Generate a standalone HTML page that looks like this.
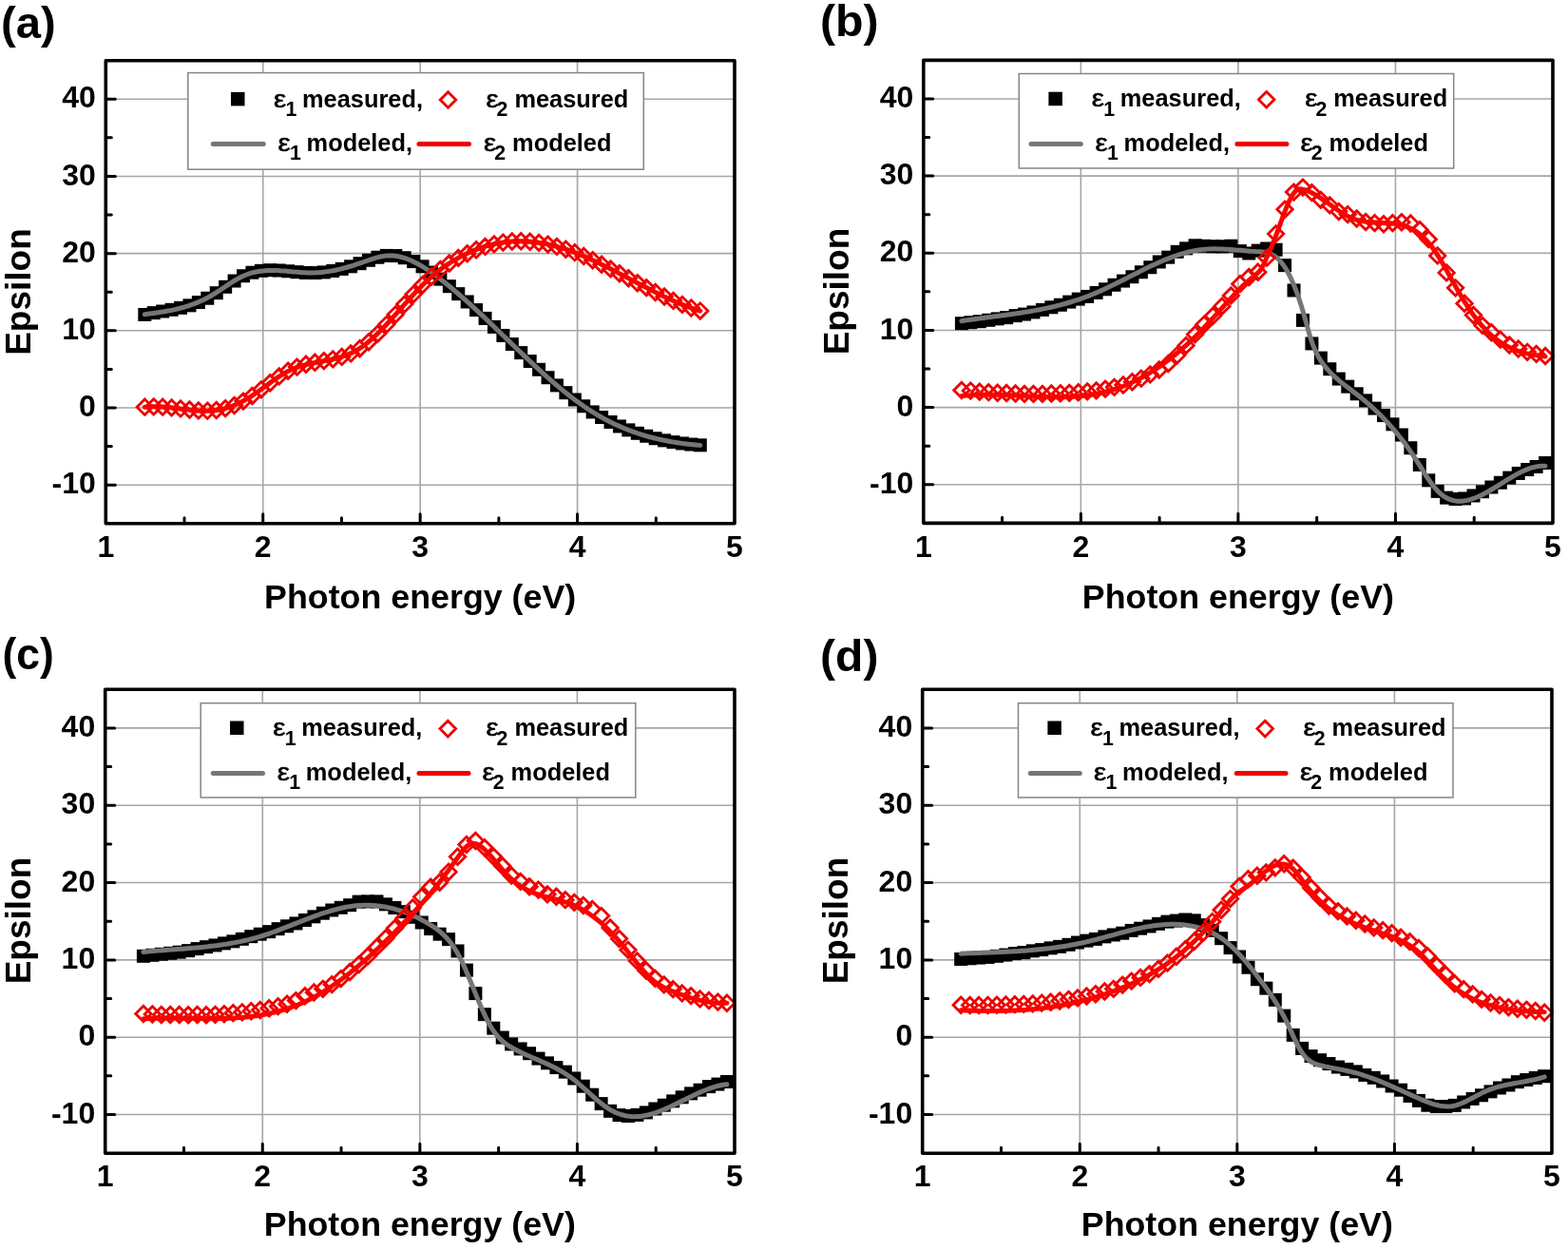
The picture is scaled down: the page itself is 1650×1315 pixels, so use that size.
<!DOCTYPE html>
<html><head><meta charset="utf-8"><title>Dielectric function: measured vs modeled</title>
<style>html,body{margin:0;padding:0;background:#fff;overflow:hidden}svg{display:block}</style>
</head><body>
<svg width="1650" height="1315" viewBox="0 0 1650 1315">
<rect width="1650" height="1315" fill="#fff"/>
<path d="M276.73 63.69V550.77M442.15 63.69V550.77M607.58 63.69V550.77M111.3 510.18H773M111.3 429H773M111.3 347.82H773M111.3 266.64H773M111.3 185.46H773M111.3 104.28H773" stroke="#a6a6a6" stroke-width="1.6" fill="none"/>
<rect x="197.8" y="76.6" width="479.5" height="101.6" fill="#fff" stroke="#858585" stroke-width="1.5"/>
<g fill="#000"><rect x="145.3" y="323.96" width="14" height="14"/><rect x="154.73" y="322.14" width="14" height="14"/><rect x="164.15" y="320.51" width="14" height="14"/><rect x="173.58" y="318.83" width="14" height="14"/><rect x="183.01" y="316.86" width="14" height="14"/><rect x="192.44" y="314.35" width="14" height="14"/><rect x="201.86" y="311.06" width="14" height="14"/><rect x="211.29" y="306.74" width="14" height="14"/><rect x="220.72" y="301.2" width="14" height="14"/><rect x="230.15" y="294.82" width="14" height="14"/><rect x="239.57" y="288.53" width="14" height="14"/><rect x="249" y="283.25" width="14" height="14"/><rect x="258.43" y="279.73" width="14" height="14"/><rect x="267.86" y="277.84" width="14" height="14"/><rect x="277.28" y="277.22" width="14" height="14"/><rect x="286.71" y="277.48" width="14" height="14"/><rect x="296.14" y="278.27" width="14" height="14"/><rect x="305.57" y="279.2" width="14" height="14"/><rect x="314.99" y="279.93" width="14" height="14"/><rect x="324.42" y="280.06" width="14" height="14"/><rect x="333.85" y="279.4" width="14" height="14"/><rect x="343.28" y="277.99" width="14" height="14"/><rect x="352.7" y="275.93" width="14" height="14"/><rect x="362.13" y="273.3" width="14" height="14"/><rect x="371.56" y="270.19" width="14" height="14"/><rect x="380.99" y="266.78" width="14" height="14"/><rect x="390.41" y="263.73" width="14" height="14"/><rect x="399.84" y="261.91" width="14" height="14"/><rect x="409.27" y="262.07" width="14" height="14"/><rect x="418.7" y="264.23" width="14" height="14"/><rect x="428.12" y="268.09" width="14" height="14"/><rect x="437.55" y="273.32" width="14" height="14"/><rect x="446.98" y="279.61" width="14" height="14"/><rect x="456.4" y="286.65" width="14" height="14"/><rect x="465.83" y="294.19" width="14" height="14"/><rect x="475.26" y="302.15" width="14" height="14"/><rect x="484.69" y="310.48" width="14" height="14"/><rect x="494.11" y="319.09" width="14" height="14"/><rect x="503.54" y="327.92" width="14" height="14"/><rect x="512.97" y="336.91" width="14" height="14"/><rect x="522.4" y="345.98" width="14" height="14"/><rect x="531.82" y="355.07" width="14" height="14"/><rect x="541.25" y="364.11" width="14" height="14"/><rect x="550.68" y="373.03" width="14" height="14"/><rect x="560.11" y="381.77" width="14" height="14"/><rect x="569.53" y="390.25" width="14" height="14"/><rect x="578.96" y="398.41" width="14" height="14"/><rect x="588.39" y="406.17" width="14" height="14"/><rect x="597.82" y="413.48" width="14" height="14"/><rect x="607.24" y="420.26" width="14" height="14"/><rect x="616.67" y="426.45" width="14" height="14"/><rect x="626.1" y="432.03" width="14" height="14"/><rect x="635.53" y="437.02" width="14" height="14"/><rect x="644.95" y="441.46" width="14" height="14"/><rect x="654.38" y="445.37" width="14" height="14"/><rect x="663.81" y="448.79" width="14" height="14"/><rect x="673.24" y="451.74" width="14" height="14"/><rect x="682.66" y="454.25" width="14" height="14"/><rect x="692.09" y="456.36" width="14" height="14"/><rect x="701.52" y="458.09" width="14" height="14"/><rect x="710.95" y="459.47" width="14" height="14"/><rect x="720.37" y="460.54" width="14" height="14"/><rect x="729.8" y="461.33" width="14" height="14"/></g>
<path d="M152.3 330.71 L154.75 330.39 L157.19 330.07 L159.64 329.74 L162.08 329.4 L164.53 329.06 L166.97 328.7 L169.42 328.32 L171.86 327.93 L174.31 327.51 L176.76 327.07 L179.2 326.6 L181.65 326.1 L184.09 325.57 L186.54 325.01 L188.98 324.4 L191.43 323.76 L193.88 323.07 L196.32 322.34 L198.77 321.56 L201.21 320.73 L203.66 319.84 L206.1 318.9 L208.55 317.89 L210.99 316.83 L213.44 315.7 L215.89 314.5 L218.33 313.23 L220.78 311.89 L223.22 310.48 L225.67 308.99 L228.11 307.44 L230.56 305.85 L233.01 304.24 L235.45 302.6 L237.9 300.97 L240.34 299.36 L242.79 297.77 L245.23 296.23 L247.68 294.75 L250.12 293.35 L252.57 292.03 L255.02 290.82 L257.46 289.72 L259.91 288.75 L262.35 287.9 L264.8 287.16 L267.24 286.52 L269.69 285.99 L272.13 285.54 L274.58 285.19 L277.03 284.91 L279.47 284.71 L281.92 284.58 L284.36 284.51 L286.81 284.5 L289.25 284.54 L291.7 284.62 L294.15 284.74 L296.59 284.89 L299.04 285.07 L301.48 285.26 L303.93 285.47 L306.37 285.69 L308.82 285.91 L311.26 286.12 L313.71 286.32 L316.16 286.51 L318.6 286.67 L321.05 286.8 L323.49 286.89 L325.94 286.94 L328.38 286.95 L330.83 286.9 L333.27 286.79 L335.72 286.64 L338.17 286.43 L340.61 286.17 L343.06 285.86 L345.5 285.51 L347.95 285.12 L350.39 284.68 L352.84 284.19 L355.29 283.67 L357.73 283.11 L360.18 282.52 L362.62 281.88 L365.07 281.22 L367.51 280.52 L369.96 279.79 L372.4 279.03 L374.85 278.24 L377.3 277.43 L379.74 276.59 L382.19 275.74 L384.63 274.87 L387.08 274.01 L389.52 273.17 L391.97 272.37 L394.42 271.61 L396.86 270.92 L399.31 270.3 L401.75 269.78 L404.2 269.37 L406.64 269.07 L409.09 268.91 L411.53 268.9 L413.98 269.02 L416.43 269.29 L418.87 269.68 L421.32 270.21 L423.76 270.85 L426.21 271.61 L428.65 272.47 L431.1 273.45 L433.54 274.52 L435.99 275.69 L438.44 276.94 L440.88 278.28 L443.33 279.7 L445.77 281.19 L448.22 282.75 L450.66 284.38 L453.11 286.06 L455.56 287.79 L458 289.57 L460.45 291.39 L462.89 293.24 L465.34 295.14 L467.78 297.06 L470.23 299.02 L472.67 301 L475.12 303.02 L477.57 305.07 L480.01 307.14 L482.46 309.24 L484.9 311.36 L487.35 313.51 L489.79 315.68 L492.24 317.87 L494.68 320.08 L497.13 322.31 L499.58 324.55 L502.02 326.82 L504.47 329.09 L506.91 331.38 L509.36 333.69 L511.8 336 L514.25 338.33 L516.7 340.67 L519.14 343.01 L521.59 345.36 L524.03 347.71 L526.48 350.07 L528.92 352.43 L531.37 354.79 L533.81 357.16 L536.26 359.52 L538.71 361.88 L541.15 364.24 L543.6 366.59 L546.04 368.94 L548.49 371.28 L550.93 373.62 L553.38 375.94 L555.83 378.26 L558.27 380.56 L560.72 382.85 L563.16 385.12 L565.61 387.38 L568.05 389.63 L570.5 391.85 L572.94 394.06 L575.39 396.25 L577.84 398.41 L580.28 400.56 L582.73 402.68 L585.17 404.77 L587.62 406.84 L590.06 408.88 L592.51 410.89 L594.95 412.88 L597.4 414.83 L599.85 416.75 L602.29 418.64 L604.74 420.49 L607.18 422.3 L609.63 424.08 L612.07 425.82 L614.52 427.52 L616.97 429.18 L619.41 430.8 L621.86 432.38 L624.3 433.91 L626.75 435.4 L629.19 436.85 L631.64 438.26 L634.08 439.63 L636.53 440.97 L638.98 442.26 L641.42 443.51 L643.87 444.73 L646.31 445.9 L648.76 447.04 L651.2 448.15 L653.65 449.22 L656.09 450.25 L658.54 451.25 L660.99 452.22 L663.43 453.15 L665.88 454.05 L668.32 454.92 L670.77 455.76 L673.21 456.56 L675.66 457.33 L678.11 458.08 L680.55 458.79 L683 459.48 L685.44 460.14 L687.89 460.77 L690.33 461.37 L692.78 461.94 L695.22 462.49 L697.67 463.02 L700.12 463.52 L702.56 463.99 L705.01 464.44 L707.45 464.87 L709.9 465.27 L712.34 465.66 L714.79 466.02 L717.24 466.36 L719.68 466.68 L722.13 466.98 L724.57 467.26 L727.02 467.52 L729.46 467.76 L731.91 467.98 L734.35 468.19 L736.8 468.38" stroke="#767676" stroke-width="5" fill="none" stroke-linecap="round" stroke-linejoin="round"/>
<g fill="none" stroke="#ee0000" stroke-width="2.8"><path d="M152.3 419.99l8.2 8.2l-8.2 8.2l-8.2 -8.2z"/><path d="M161.73 419.66l8.2 8.2l-8.2 8.2l-8.2 -8.2z"/><path d="M171.15 419.95l8.2 8.2l-8.2 8.2l-8.2 -8.2z"/><path d="M180.58 420.7l8.2 8.2l-8.2 8.2l-8.2 -8.2z"/><path d="M190.01 421.73l8.2 8.2l-8.2 8.2l-8.2 -8.2z"/><path d="M199.44 422.84l8.2 8.2l-8.2 8.2l-8.2 -8.2z"/><path d="M208.86 423.71l8.2 8.2l-8.2 8.2l-8.2 -8.2z"/><path d="M218.29 423.99l8.2 8.2l-8.2 8.2l-8.2 -8.2z"/><path d="M227.72 423.34l8.2 8.2l-8.2 8.2l-8.2 -8.2z"/><path d="M237.15 421.45l8.2 8.2l-8.2 8.2l-8.2 -8.2z"/><path d="M246.57 418.3l8.2 8.2l-8.2 8.2l-8.2 -8.2z"/><path d="M256 413.91l8.2 8.2l-8.2 8.2l-8.2 -8.2z"/><path d="M265.43 408.29l8.2 8.2l-8.2 8.2l-8.2 -8.2z"/><path d="M274.86 401.61l8.2 8.2l-8.2 8.2l-8.2 -8.2z"/><path d="M284.28 394.51l8.2 8.2l-8.2 8.2l-8.2 -8.2z"/><path d="M293.71 387.72l8.2 8.2l-8.2 8.2l-8.2 -8.2z"/><path d="M303.14 382.01l8.2 8.2l-8.2 8.2l-8.2 -8.2z"/><path d="M312.57 377.89l8.2 8.2l-8.2 8.2l-8.2 -8.2z"/><path d="M321.99 375.08l8.2 8.2l-8.2 8.2l-8.2 -8.2z"/><path d="M331.42 373.1l8.2 8.2l-8.2 8.2l-8.2 -8.2z"/><path d="M340.85 371.45l8.2 8.2l-8.2 8.2l-8.2 -8.2z"/><path d="M350.28 369.66l8.2 8.2l-8.2 8.2l-8.2 -8.2z"/><path d="M359.7 367.24l8.2 8.2l-8.2 8.2l-8.2 -8.2z"/><path d="M369.13 363.72l8.2 8.2l-8.2 8.2l-8.2 -8.2z"/><path d="M378.56 358.6l8.2 8.2l-8.2 8.2l-8.2 -8.2z"/><path d="M387.99 351.57l8.2 8.2l-8.2 8.2l-8.2 -8.2z"/><path d="M397.41 342.93l8.2 8.2l-8.2 8.2l-8.2 -8.2z"/><path d="M406.84 333.13l8.2 8.2l-8.2 8.2l-8.2 -8.2z"/><path d="M416.27 322.64l8.2 8.2l-8.2 8.2l-8.2 -8.2z"/><path d="M425.7 311.9l8.2 8.2l-8.2 8.2l-8.2 -8.2z"/><path d="M435.12 301.37l8.2 8.2l-8.2 8.2l-8.2 -8.2z"/><path d="M444.55 291.51l8.2 8.2l-8.2 8.2l-8.2 -8.2z"/><path d="M453.98 282.75l8.2 8.2l-8.2 8.2l-8.2 -8.2z"/><path d="M463.4 275.21l8.2 8.2l-8.2 8.2l-8.2 -8.2z"/><path d="M472.83 268.75l8.2 8.2l-8.2 8.2l-8.2 -8.2z"/><path d="M482.26 263.24l8.2 8.2l-8.2 8.2l-8.2 -8.2z"/><path d="M491.69 258.53l8.2 8.2l-8.2 8.2l-8.2 -8.2z"/><path d="M501.11 254.53l8.2 8.2l-8.2 8.2l-8.2 -8.2z"/><path d="M510.54 251.23l8.2 8.2l-8.2 8.2l-8.2 -8.2z"/><path d="M519.97 248.67l8.2 8.2l-8.2 8.2l-8.2 -8.2z"/><path d="M529.4 246.87l8.2 8.2l-8.2 8.2l-8.2 -8.2z"/><path d="M538.82 245.85l8.2 8.2l-8.2 8.2l-8.2 -8.2z"/><path d="M548.25 245.58l8.2 8.2l-8.2 8.2l-8.2 -8.2z"/><path d="M557.68 246.02l8.2 8.2l-8.2 8.2l-8.2 -8.2z"/><path d="M567.11 247.14l8.2 8.2l-8.2 8.2l-8.2 -8.2z"/><path d="M576.53 248.89l8.2 8.2l-8.2 8.2l-8.2 -8.2z"/><path d="M585.96 251.22l8.2 8.2l-8.2 8.2l-8.2 -8.2z"/><path d="M595.39 254.1l8.2 8.2l-8.2 8.2l-8.2 -8.2z"/><path d="M604.82 257.49l8.2 8.2l-8.2 8.2l-8.2 -8.2z"/><path d="M614.24 261.32l8.2 8.2l-8.2 8.2l-8.2 -8.2z"/><path d="M623.67 265.51l8.2 8.2l-8.2 8.2l-8.2 -8.2z"/><path d="M633.1 270l8.2 8.2l-8.2 8.2l-8.2 -8.2z"/><path d="M642.53 274.72l8.2 8.2l-8.2 8.2l-8.2 -8.2z"/><path d="M651.95 279.6l8.2 8.2l-8.2 8.2l-8.2 -8.2z"/><path d="M661.38 284.56l8.2 8.2l-8.2 8.2l-8.2 -8.2z"/><path d="M670.81 289.53l8.2 8.2l-8.2 8.2l-8.2 -8.2z"/><path d="M680.24 294.45l8.2 8.2l-8.2 8.2l-8.2 -8.2z"/><path d="M689.66 299.25l8.2 8.2l-8.2 8.2l-8.2 -8.2z"/><path d="M699.09 303.85l8.2 8.2l-8.2 8.2l-8.2 -8.2z"/><path d="M708.52 308.18l8.2 8.2l-8.2 8.2l-8.2 -8.2z"/><path d="M717.95 312.18l8.2 8.2l-8.2 8.2l-8.2 -8.2z"/><path d="M727.37 315.76l8.2 8.2l-8.2 8.2l-8.2 -8.2z"/><path d="M736.8 318.87l8.2 8.2l-8.2 8.2l-8.2 -8.2z"/></g>
<path d="M152.3 428.23 L154.75 428.01 L157.19 427.87 L159.64 427.78 L162.08 427.75 L164.53 427.77 L166.97 427.84 L169.42 427.95 L171.86 428.1 L174.31 428.29 L176.76 428.51 L179.2 428.75 L181.65 429.02 L184.09 429.3 L186.54 429.6 L188.98 429.91 L191.43 430.22 L193.88 430.54 L196.32 430.84 L198.77 431.14 L201.21 431.42 L203.66 431.67 L206.1 431.89 L208.55 432.08 L210.99 432.22 L213.44 432.32 L215.89 432.36 L218.33 432.34 L220.78 432.25 L223.22 432.09 L225.67 431.85 L228.11 431.53 L230.56 431.12 L233.01 430.61 L235.45 430.02 L237.9 429.35 L240.34 428.58 L242.79 427.74 L245.23 426.81 L247.68 425.8 L250.12 424.71 L252.57 423.54 L255.02 422.29 L257.46 420.97 L259.91 419.57 L262.35 418.1 L264.8 416.55 L267.24 414.94 L269.69 413.26 L272.13 411.54 L274.58 409.78 L277.03 407.99 L279.47 406.2 L281.92 404.4 L284.36 402.61 L286.81 400.84 L289.25 399.11 L291.7 397.43 L294.15 395.81 L296.59 394.25 L299.04 392.78 L301.48 391.4 L303.93 390.13 L306.37 388.97 L308.82 387.91 L311.26 386.95 L313.71 386.07 L316.16 385.27 L318.6 384.54 L321.05 383.87 L323.49 383.26 L325.94 382.69 L328.38 382.16 L330.83 381.66 L333.27 381.19 L335.72 380.72 L338.17 380.27 L340.61 379.81 L343.06 379.34 L345.5 378.85 L347.95 378.34 L350.39 377.79 L352.84 377.21 L355.29 376.57 L357.73 375.87 L360.18 375.11 L362.62 374.27 L365.07 373.35 L367.51 372.35 L369.96 371.24 L372.4 370.03 L374.85 368.7 L377.3 367.26 L379.74 365.68 L382.19 363.97 L384.63 362.14 L387.08 360.2 L389.52 358.15 L391.97 356 L394.42 353.75 L396.86 351.43 L399.31 349.02 L401.75 346.55 L404.2 344.01 L406.64 341.42 L409.09 338.78 L411.53 336.11 L413.98 333.4 L416.43 330.67 L418.87 327.92 L421.32 325.16 L423.76 322.4 L426.21 319.65 L428.65 316.91 L431.1 314.19 L433.54 311.5 L435.99 308.85 L438.44 306.24 L440.88 303.69 L443.33 301.19 L445.77 298.76 L448.22 296.4 L450.66 294.13 L453.11 291.93 L455.56 289.82 L458 287.78 L460.45 285.81 L462.89 283.92 L465.34 282.1 L467.78 280.35 L470.23 278.67 L472.67 277.05 L475.12 275.5 L477.57 274.01 L480.01 272.59 L482.46 271.22 L484.9 269.91 L487.35 268.65 L489.79 267.45 L492.24 266.3 L494.68 265.2 L497.13 264.15 L499.58 263.15 L502.02 262.2 L504.47 261.31 L506.91 260.46 L509.36 259.67 L511.8 258.92 L514.25 258.23 L516.7 257.59 L519.14 257 L521.59 256.46 L524.03 255.97 L526.48 255.53 L528.92 255.15 L531.37 254.81 L533.81 254.53 L536.26 254.3 L538.71 254.11 L541.15 253.98 L543.6 253.89 L546.04 253.85 L548.49 253.86 L550.93 253.92 L553.38 254.02 L555.83 254.16 L558.27 254.35 L560.72 254.59 L563.16 254.87 L565.61 255.19 L568.05 255.55 L570.5 255.95 L572.94 256.4 L575.39 256.89 L577.84 257.41 L580.28 257.98 L582.73 258.58 L585.17 259.22 L587.62 259.9 L590.06 260.62 L592.51 261.37 L594.95 262.15 L597.4 262.98 L599.85 263.83 L602.29 264.72 L604.74 265.64 L607.18 266.59 L609.63 267.57 L612.07 268.57 L614.52 269.6 L616.97 270.66 L619.41 271.74 L621.86 272.85 L624.3 273.97 L626.75 275.12 L629.19 276.28 L631.64 277.46 L634.08 278.66 L636.53 279.87 L638.98 281.1 L641.42 282.33 L643.87 283.58 L646.31 284.84 L648.76 286.11 L651.2 287.39 L653.65 288.67 L656.09 289.96 L658.54 291.25 L660.99 292.54 L663.43 293.84 L665.88 295.13 L668.32 296.43 L670.77 297.72 L673.21 299 L675.66 300.29 L678.11 301.56 L680.55 302.83 L683 304.09 L685.44 305.34 L687.89 306.58 L690.33 307.8 L692.78 309.02 L695.22 310.21 L697.67 311.39 L700.12 312.56 L702.56 313.7 L705.01 314.82 L707.45 315.93 L709.9 317.01 L712.34 318.06 L714.79 319.1 L717.24 320.1 L719.68 321.08 L722.13 322.03 L724.57 322.95 L727.02 323.83 L729.46 324.69 L731.91 325.51 L734.35 326.3 L736.8 327.05" stroke="#f00" stroke-width="5" fill="none" stroke-linecap="round" stroke-linejoin="round"/>
<rect x="111.3" y="63.69" width="661.7" height="487.08" fill="none" stroke="#000" stroke-width="3.6" stroke-linejoin="round"/>
<path d="M111.3 510.18h10M111.3 429h10M111.3 347.82h10M111.3 266.64h10M111.3 185.46h10M111.3 104.28h10M111.3 469.59h6M111.3 388.41h6M111.3 307.23h6M111.3 226.05h6M111.3 144.87h6M276.73 550.77v-10M442.15 550.77v-10M607.58 550.77v-10M194.01 550.77v-6M359.44 550.77v-6M524.86 550.77v-6M690.29 550.77v-6" stroke="#000" stroke-width="3" fill="none" stroke-linecap="round"/>
<g font-family="'Liberation Sans', Arial, Helvetica, sans-serif" font-weight="bold" font-size="32" text-anchor="end">
<text x="100.8" y="519.38">-10</text>
<text x="100.8" y="438.2">0</text>
<text x="100.8" y="357.02">10</text>
<text x="100.8" y="275.84">20</text>
<text x="100.8" y="194.66">30</text>
<text x="100.8" y="113.48">40</text>
</g>
<g font-family="'Liberation Sans', Arial, Helvetica, sans-serif" font-weight="bold" font-size="32" text-anchor="middle">
<text x="111.3" y="585.97">1</text>
<text x="276.73" y="585.97">2</text>
<text x="442.15" y="585.97">3</text>
<text x="607.58" y="585.97">4</text>
<text x="773" y="585.97">5</text>
</g>
<text x="442.15" y="640" font-family="'Liberation Sans', Arial, Helvetica, sans-serif" font-weight="bold" font-size="35.8" text-anchor="middle">Photon energy (eV)</text>
<text transform="translate(32 307) rotate(-90)" font-family="'Liberation Sans', Arial, Helvetica, sans-serif" font-weight="bold" font-size="37" text-anchor="middle">Epsilon</text>
<text x="1" y="39.5" font-family="'Liberation Sans', Arial, Helvetica, sans-serif" font-weight="bold" font-size="46" textLength="57.7" lengthAdjust="spacingAndGlyphs">(a)</text>
<rect x="243" y="96.9" width="14.5" height="14.5" fill="#000"/>
<path d="M471.5 96.7l8.3 8.3l-8.3 8.3l-8.3 -8.3z" fill="none" stroke="#e00" stroke-width="2.8"/>
<path d="M224.2 151.5h53.1" stroke="#767676" stroke-width="5" stroke-linecap="round"/>
<path d="M441 151.5h52.5" stroke="#e00" stroke-width="5" stroke-linecap="round"/>
<text x="288" y="112.5" font-family="'Liberation Sans', Arial, Helvetica, sans-serif" font-size="25" textLength="13.2" lengthAdjust="spacingAndGlyphs" stroke="#000" stroke-width="0.55">ε</text>
<text x="300.4" y="121.9" font-family="'Liberation Sans', Arial, Helvetica, sans-serif" font-weight="bold" font-size="21.3">1</text>
<text x="318" y="112.5" font-family="'Liberation Sans', Arial, Helvetica, sans-serif" font-weight="bold" font-size="25.4">measured,</text>
<text x="511.4" y="112.5" font-family="'Liberation Sans', Arial, Helvetica, sans-serif" font-size="25" textLength="13.2" lengthAdjust="spacingAndGlyphs" stroke="#000" stroke-width="0.55">ε</text>
<text x="522.6" y="121.9" font-family="'Liberation Sans', Arial, Helvetica, sans-serif" font-weight="bold" font-size="21.3">2</text>
<text x="541.4" y="112.5" font-family="'Liberation Sans', Arial, Helvetica, sans-serif" font-weight="bold" font-size="25.4">measured</text>
<text x="292.6" y="158.5" font-family="'Liberation Sans', Arial, Helvetica, sans-serif" font-size="25" textLength="13.2" lengthAdjust="spacingAndGlyphs" stroke="#000" stroke-width="0.55">ε</text>
<text x="305" y="167.9" font-family="'Liberation Sans', Arial, Helvetica, sans-serif" font-weight="bold" font-size="21.3">1</text>
<text x="322.6" y="158.5" font-family="'Liberation Sans', Arial, Helvetica, sans-serif" font-weight="bold" font-size="25.4">modeled,</text>
<text x="509.1" y="158.5" font-family="'Liberation Sans', Arial, Helvetica, sans-serif" font-size="25" textLength="13.2" lengthAdjust="spacingAndGlyphs" stroke="#000" stroke-width="0.55">ε</text>
<text x="520.3" y="167.9" font-family="'Liberation Sans', Arial, Helvetica, sans-serif" font-weight="bold" font-size="21.3">2</text>
<text x="539.1" y="158.5" font-family="'Liberation Sans', Arial, Helvetica, sans-serif" font-weight="bold" font-size="25.4">modeled</text>
<path d="M1137.35 63.38V550.34M1302.9 63.38V550.34M1468.45 63.38V550.34M971.8 509.76H1634M971.8 428.6H1634M971.8 347.44H1634M971.8 266.28H1634M971.8 185.12H1634M971.8 103.96H1634" stroke="#a6a6a6" stroke-width="1.6" fill="none"/>
<rect x="1072.3" y="77.5" width="457.4" height="99.5" fill="#fff" stroke="#858585" stroke-width="1.5"/>
<g fill="#000"><rect x="1004.9" y="333.2" width="14" height="14"/><rect x="1014.35" y="332.21" width="14" height="14"/><rect x="1023.8" y="331.22" width="14" height="14"/><rect x="1033.25" y="329.81" width="14" height="14"/><rect x="1042.7" y="328.39" width="14" height="14"/><rect x="1052.15" y="327.13" width="14" height="14"/><rect x="1061.6" y="325.1" width="14" height="14"/><rect x="1071.04" y="323.57" width="14" height="14"/><rect x="1080.49" y="321.45" width="14" height="14"/><rect x="1089.94" y="318.95" width="14" height="14"/><rect x="1099.39" y="316.29" width="14" height="14"/><rect x="1108.84" y="313.75" width="14" height="14"/><rect x="1118.29" y="310.6" width="14" height="14"/><rect x="1127.74" y="307.61" width="14" height="14"/><rect x="1137.19" y="304.94" width="14" height="14"/><rect x="1146.64" y="300.99" width="14" height="14"/><rect x="1156.09" y="297.28" width="14" height="14"/><rect x="1165.54" y="292.76" width="14" height="14"/><rect x="1174.99" y="288.58" width="14" height="14"/><rect x="1184.44" y="284.23" width="14" height="14"/><rect x="1193.88" y="279.27" width="14" height="14"/><rect x="1203.33" y="274.24" width="14" height="14"/><rect x="1212.78" y="268.49" width="14" height="14"/><rect x="1222.23" y="263.67" width="14" height="14"/><rect x="1231.68" y="257.85" width="14" height="14"/><rect x="1241.13" y="254.36" width="14" height="14"/><rect x="1250.58" y="251.31" width="14" height="14"/><rect x="1260.03" y="251.8" width="14" height="14"/><rect x="1269.48" y="252.21" width="14" height="14"/><rect x="1278.93" y="252.28" width="14" height="14"/><rect x="1288.38" y="251.74" width="14" height="14"/><rect x="1297.83" y="257.12" width="14" height="14"/><rect x="1307.28" y="259.49" width="14" height="14"/><rect x="1316.72" y="256.63" width="14" height="14"/><rect x="1326.17" y="254.52" width="14" height="14"/><rect x="1335.62" y="255.71" width="14" height="14"/><rect x="1345.07" y="272.15" width="14" height="14"/><rect x="1354.52" y="298.46" width="14" height="14"/><rect x="1363.97" y="329.9" width="14" height="14"/><rect x="1373.42" y="354.44" width="14" height="14"/><rect x="1382.87" y="369.6" width="14" height="14"/><rect x="1392.32" y="381.22" width="14" height="14"/><rect x="1401.77" y="391.56" width="14" height="14"/><rect x="1411.22" y="399.65" width="14" height="14"/><rect x="1420.67" y="407.28" width="14" height="14"/><rect x="1430.12" y="414.38" width="14" height="14"/><rect x="1439.56" y="422.6" width="14" height="14"/><rect x="1449.01" y="430.05" width="14" height="14"/><rect x="1458.46" y="439.3" width="14" height="14"/><rect x="1467.91" y="450.51" width="14" height="14"/><rect x="1477.36" y="464.23" width="14" height="14"/><rect x="1486.81" y="481.95" width="14" height="14"/><rect x="1496.26" y="498.32" width="14" height="14"/><rect x="1505.71" y="509.88" width="14" height="14"/><rect x="1515.16" y="516.65" width="14" height="14"/><rect x="1524.61" y="518" width="14" height="14"/><rect x="1534.06" y="517.44" width="14" height="14"/><rect x="1543.51" y="514.45" width="14" height="14"/><rect x="1552.96" y="510.23" width="14" height="14"/><rect x="1562.4" y="505.5" width="14" height="14"/><rect x="1571.85" y="500.77" width="14" height="14"/><rect x="1581.3" y="495.63" width="14" height="14"/><rect x="1590.75" y="490.95" width="14" height="14"/><rect x="1600.2" y="487.02" width="14" height="14"/><rect x="1609.65" y="483.97" width="14" height="14"/><rect x="1619.1" y="480.01" width="14" height="14"/></g>
<path d="M1011.9 337.66 L1014.47 337.27 L1017.04 336.89 L1019.61 336.52 L1022.18 336.16 L1024.75 335.81 L1027.32 335.46 L1029.89 335.11 L1032.46 334.77 L1035.03 334.43 L1037.6 334.1 L1040.17 333.77 L1042.74 333.43 L1045.31 333.1 L1047.88 332.77 L1050.45 332.43 L1053.02 332.09 L1055.59 331.75 L1058.16 331.41 L1060.73 331.06 L1063.3 330.7 L1065.87 330.34 L1068.44 329.97 L1071.01 329.59 L1073.58 329.2 L1076.15 328.8 L1078.72 328.39 L1081.29 327.97 L1083.86 327.54 L1086.43 327.1 L1089 326.64 L1091.57 326.16 L1094.14 325.67 L1096.71 325.16 L1099.28 324.64 L1101.85 324.1 L1104.42 323.54 L1106.99 322.95 L1109.56 322.35 L1112.13 321.73 L1114.69 321.08 L1117.26 320.41 L1119.83 319.72 L1122.4 319 L1124.97 318.26 L1127.54 317.49 L1130.11 316.69 L1132.68 315.87 L1135.25 315.01 L1137.82 314.13 L1140.39 313.22 L1142.96 312.27 L1145.53 311.29 L1148.1 310.28 L1150.67 309.24 L1153.24 308.16 L1155.81 307.05 L1158.38 305.91 L1160.95 304.74 L1163.52 303.55 L1166.09 302.34 L1168.66 301.11 L1171.23 299.86 L1173.8 298.59 L1176.37 297.32 L1178.94 296.03 L1181.51 294.73 L1184.08 293.42 L1186.65 292.12 L1189.22 290.81 L1191.79 289.5 L1194.36 288.2 L1196.93 286.9 L1199.5 285.61 L1202.07 284.33 L1204.64 283.06 L1207.21 281.8 L1209.78 280.57 L1212.35 279.35 L1214.92 278.15 L1217.49 276.98 L1220.06 275.84 L1222.63 274.72 L1225.2 273.64 L1227.77 272.58 L1230.34 271.57 L1232.91 270.59 L1235.48 269.65 L1238.05 268.76 L1240.62 267.91 L1243.19 267.1 L1245.76 266.35 L1248.33 265.65 L1250.9 265 L1253.47 264.41 L1256.04 263.88 L1258.61 263.4 L1261.18 263 L1263.75 262.65 L1266.32 262.38 L1268.89 262.16 L1271.46 262.01 L1274.03 261.9 L1276.6 261.85 L1279.17 261.84 L1281.74 261.88 L1284.31 261.95 L1286.88 262.05 L1289.45 262.19 L1292.02 262.35 L1294.59 262.52 L1297.16 262.72 L1299.73 262.93 L1302.3 263.14 L1304.87 263.36 L1307.44 263.58 L1310.01 263.8 L1312.58 264.01 L1315.15 264.2 L1317.72 264.38 L1320.28 264.54 L1322.85 264.67 L1325.42 264.81 L1327.99 265 L1330.56 265.31 L1333.13 265.81 L1335.7 266.55 L1338.27 267.62 L1340.84 269.06 L1343.41 270.95 L1345.98 273.35 L1348.55 276.28 L1351.12 279.76 L1353.69 283.81 L1356.26 288.44 L1358.83 293.67 L1361.4 299.52 L1363.97 306 L1366.54 313.13 L1369.11 320.92 L1371.68 329.4 L1374.25 338.59 L1376.82 348.03 L1379.39 356.6 L1381.96 363.83 L1384.53 369.9 L1387.1 374.98 L1389.67 379.27 L1392.24 382.94 L1394.81 386.19 L1397.38 389.16 L1399.95 391.92 L1402.52 394.5 L1405.09 396.91 L1407.66 399.17 L1410.23 401.33 L1412.8 403.39 L1415.37 405.39 L1417.94 407.35 L1420.51 409.29 L1423.08 411.24 L1425.65 413.22 L1428.22 415.23 L1430.79 417.28 L1433.36 419.37 L1435.93 421.51 L1438.5 423.69 L1441.07 425.93 L1443.64 428.23 L1446.21 430.58 L1448.78 433 L1451.35 435.49 L1453.92 438.04 L1456.49 440.67 L1459.06 443.38 L1461.63 446.17 L1464.2 449.05 L1466.77 452.01 L1469.34 455.07 L1471.91 458.22 L1474.48 461.48 L1477.05 464.83 L1479.62 468.3 L1482.19 471.87 L1484.76 475.56 L1487.33 479.36 L1489.9 483.29 L1492.47 487.34 L1495.04 491.44 L1497.61 495.55 L1500.18 499.6 L1502.75 503.53 L1505.32 507.26 L1507.89 510.75 L1510.46 513.92 L1513.03 516.73 L1515.6 519.15 L1518.17 521.23 L1520.74 522.96 L1523.31 524.37 L1525.87 525.48 L1528.44 526.31 L1531.01 526.87 L1533.58 527.19 L1536.15 527.28 L1538.72 527.16 L1541.29 526.85 L1543.86 526.37 L1546.43 525.73 L1549 524.95 L1551.57 524.05 L1554.14 523.02 L1556.71 521.89 L1559.28 520.66 L1561.85 519.35 L1564.42 517.96 L1566.99 516.51 L1569.56 515 L1572.13 513.45 L1574.7 511.87 L1577.27 510.27 L1579.84 508.66 L1582.41 507.05 L1584.98 505.45 L1587.55 503.87 L1590.12 502.33 L1592.69 500.83 L1595.26 499.38 L1597.83 498 L1600.4 496.7 L1602.97 495.48 L1605.54 494.36 L1608.11 493.35 L1610.68 492.46 L1613.25 491.7 L1615.82 491.08 L1618.39 490.61 L1620.96 490.3 L1623.53 490.17 L1626.1 490.22" stroke="#767676" stroke-width="5" fill="none" stroke-linecap="round" stroke-linejoin="round"/>
<g fill="none" stroke="#ee0000" stroke-width="2.8"><path d="M1011.9 402.28l8.2 8.2l-8.2 8.2l-8.2 -8.2z"/><path d="M1021.35 402.87l8.2 8.2l-8.2 8.2l-8.2 -8.2z"/><path d="M1030.8 403.94l8.2 8.2l-8.2 8.2l-8.2 -8.2z"/><path d="M1040.25 404.47l8.2 8.2l-8.2 8.2l-8.2 -8.2z"/><path d="M1049.7 405.09l8.2 8.2l-8.2 8.2l-8.2 -8.2z"/><path d="M1059.15 405.29l8.2 8.2l-8.2 8.2l-8.2 -8.2z"/><path d="M1068.6 405.77l8.2 8.2l-8.2 8.2l-8.2 -8.2z"/><path d="M1078.04 406.2l8.2 8.2l-8.2 8.2l-8.2 -8.2z"/><path d="M1087.49 406.2l8.2 8.2l-8.2 8.2l-8.2 -8.2z"/><path d="M1096.94 406.2l8.2 8.2l-8.2 8.2l-8.2 -8.2z"/><path d="M1106.39 405.81l8.2 8.2l-8.2 8.2l-8.2 -8.2z"/><path d="M1115.84 405.61l8.2 8.2l-8.2 8.2l-8.2 -8.2z"/><path d="M1125.29 405.14l8.2 8.2l-8.2 8.2l-8.2 -8.2z"/><path d="M1134.74 404.53l8.2 8.2l-8.2 8.2l-8.2 -8.2z"/><path d="M1144.19 403.73l8.2 8.2l-8.2 8.2l-8.2 -8.2z"/><path d="M1153.64 402.69l8.2 8.2l-8.2 8.2l-8.2 -8.2z"/><path d="M1163.09 400.98l8.2 8.2l-8.2 8.2l-8.2 -8.2z"/><path d="M1172.54 399.16l8.2 8.2l-8.2 8.2l-8.2 -8.2z"/><path d="M1181.99 396.82l8.2 8.2l-8.2 8.2l-8.2 -8.2z"/><path d="M1191.44 393.52l8.2 8.2l-8.2 8.2l-8.2 -8.2z"/><path d="M1200.88 389.99l8.2 8.2l-8.2 8.2l-8.2 -8.2z"/><path d="M1210.33 385.74l8.2 8.2l-8.2 8.2l-8.2 -8.2z"/><path d="M1219.78 380.81l8.2 8.2l-8.2 8.2l-8.2 -8.2z"/><path d="M1229.23 374.45l8.2 8.2l-8.2 8.2l-8.2 -8.2z"/><path d="M1238.68 365.62l8.2 8.2l-8.2 8.2l-8.2 -8.2z"/><path d="M1248.13 355.18l8.2 8.2l-8.2 8.2l-8.2 -8.2z"/><path d="M1257.58 343.47l8.2 8.2l-8.2 8.2l-8.2 -8.2z"/><path d="M1267.03 333.11l8.2 8.2l-8.2 8.2l-8.2 -8.2z"/><path d="M1276.48 324l8.2 8.2l-8.2 8.2l-8.2 -8.2z"/><path d="M1285.93 313.93l8.2 8.2l-8.2 8.2l-8.2 -8.2z"/><path d="M1295.38 302.7l8.2 8.2l-8.2 8.2l-8.2 -8.2z"/><path d="M1304.83 290.48l8.2 8.2l-8.2 8.2l-8.2 -8.2z"/><path d="M1314.28 283.34l8.2 8.2l-8.2 8.2l-8.2 -8.2z"/><path d="M1323.72 278.01l8.2 8.2l-8.2 8.2l-8.2 -8.2z"/><path d="M1333.17 262.94l8.2 8.2l-8.2 8.2l-8.2 -8.2z"/><path d="M1342.62 237.74l8.2 8.2l-8.2 8.2l-8.2 -8.2z"/><path d="M1352.07 212l8.2 8.2l-8.2 8.2l-8.2 -8.2z"/><path d="M1361.52 193.9l8.2 8.2l-8.2 8.2l-8.2 -8.2z"/><path d="M1370.97 188.9l8.2 8.2l-8.2 8.2l-8.2 -8.2z"/><path d="M1380.42 194.41l8.2 8.2l-8.2 8.2l-8.2 -8.2z"/><path d="M1389.87 202.15l8.2 8.2l-8.2 8.2l-8.2 -8.2z"/><path d="M1399.32 207.68l8.2 8.2l-8.2 8.2l-8.2 -8.2z"/><path d="M1408.77 214.28l8.2 8.2l-8.2 8.2l-8.2 -8.2z"/><path d="M1418.22 217.39l8.2 8.2l-8.2 8.2l-8.2 -8.2z"/><path d="M1427.67 221.8l8.2 8.2l-8.2 8.2l-8.2 -8.2z"/><path d="M1437.12 225.28l8.2 8.2l-8.2 8.2l-8.2 -8.2z"/><path d="M1446.56 226.4l8.2 8.2l-8.2 8.2l-8.2 -8.2z"/><path d="M1456.01 227.5l8.2 8.2l-8.2 8.2l-8.2 -8.2z"/><path d="M1465.46 226.39l8.2 8.2l-8.2 8.2l-8.2 -8.2z"/><path d="M1474.91 225.51l8.2 8.2l-8.2 8.2l-8.2 -8.2z"/><path d="M1484.36 226.84l8.2 8.2l-8.2 8.2l-8.2 -8.2z"/><path d="M1493.81 233.36l8.2 8.2l-8.2 8.2l-8.2 -8.2z"/><path d="M1503.26 243.47l8.2 8.2l-8.2 8.2l-8.2 -8.2z"/><path d="M1512.71 260.74l8.2 8.2l-8.2 8.2l-8.2 -8.2z"/><path d="M1522.16 278.68l8.2 8.2l-8.2 8.2l-8.2 -8.2z"/><path d="M1531.61 294.63l8.2 8.2l-8.2 8.2l-8.2 -8.2z"/><path d="M1541.06 311.03l8.2 8.2l-8.2 8.2l-8.2 -8.2z"/><path d="M1550.51 323.35l8.2 8.2l-8.2 8.2l-8.2 -8.2z"/><path d="M1559.96 334.15l8.2 8.2l-8.2 8.2l-8.2 -8.2z"/><path d="M1569.4 341.53l8.2 8.2l-8.2 8.2l-8.2 -8.2z"/><path d="M1578.85 348.93l8.2 8.2l-8.2 8.2l-8.2 -8.2z"/><path d="M1588.3 354.75l8.2 8.2l-8.2 8.2l-8.2 -8.2z"/><path d="M1597.75 358.76l8.2 8.2l-8.2 8.2l-8.2 -8.2z"/><path d="M1607.2 362.13l8.2 8.2l-8.2 8.2l-8.2 -8.2z"/><path d="M1616.65 364.19l8.2 8.2l-8.2 8.2l-8.2 -8.2z"/><path d="M1626.1 366.26l8.2 8.2l-8.2 8.2l-8.2 -8.2z"/></g>
<path d="M1011.9 416.58 L1014.47 416.32 L1017.04 416.09 L1019.61 415.89 L1022.18 415.72 L1024.75 415.58 L1027.32 415.46 L1029.89 415.37 L1032.46 415.3 L1035.03 415.26 L1037.6 415.23 L1040.17 415.23 L1042.74 415.24 L1045.31 415.28 L1047.88 415.32 L1050.45 415.38 L1053.02 415.46 L1055.59 415.55 L1058.16 415.64 L1060.73 415.75 L1063.3 415.86 L1065.87 415.99 L1068.44 416.11 L1071.01 416.24 L1073.58 416.37 L1076.15 416.51 L1078.72 416.64 L1081.29 416.77 L1083.86 416.9 L1086.43 417.02 L1089 417.14 L1091.57 417.25 L1094.14 417.36 L1096.71 417.45 L1099.28 417.54 L1101.85 417.61 L1104.42 417.67 L1106.99 417.71 L1109.56 417.74 L1112.13 417.74 L1114.69 417.73 L1117.26 417.7 L1119.83 417.65 L1122.4 417.58 L1124.97 417.48 L1127.54 417.36 L1130.11 417.2 L1132.68 417.02 L1135.25 416.82 L1137.82 416.58 L1140.39 416.3 L1142.96 416 L1145.53 415.66 L1148.1 415.28 L1150.67 414.87 L1153.24 414.41 L1155.81 413.92 L1158.38 413.38 L1160.95 412.81 L1163.52 412.18 L1166.09 411.52 L1168.66 410.8 L1171.23 410.04 L1173.8 409.23 L1176.37 408.36 L1178.94 407.45 L1181.51 406.48 L1184.08 405.46 L1186.65 404.38 L1189.22 403.25 L1191.79 402.07 L1194.36 400.84 L1196.93 399.55 L1199.5 398.22 L1202.07 396.83 L1204.64 395.39 L1207.21 393.89 L1209.78 392.35 L1212.35 390.75 L1214.92 389.1 L1217.49 387.4 L1220.06 385.65 L1222.63 383.85 L1225.2 381.99 L1227.77 380.09 L1230.34 378.14 L1232.91 376.13 L1235.48 374.07 L1238.05 371.97 L1240.62 369.81 L1243.19 367.6 L1245.76 365.35 L1248.33 363.04 L1250.9 360.68 L1253.47 358.28 L1256.04 355.82 L1258.61 353.32 L1261.18 350.76 L1263.75 348.16 L1266.32 345.51 L1268.89 342.81 L1271.46 340.06 L1274.03 337.27 L1276.6 334.44 L1279.17 331.59 L1281.74 328.73 L1284.31 325.86 L1286.88 322.99 L1289.45 320.13 L1292.02 317.29 L1294.59 314.48 L1297.16 311.71 L1299.73 308.98 L1302.3 306.3 L1304.87 303.69 L1307.44 301.15 L1310.01 298.7 L1312.58 296.33 L1315.15 294.06 L1317.72 291.89 L1320.28 289.85 L1322.85 287.79 L1325.42 285.23 L1327.99 281.61 L1330.56 276.46 L1333.13 270.38 L1335.7 264.39 L1338.27 258.75 L1340.84 252.71 L1343.41 246.02 L1345.98 238.95 L1348.55 231.79 L1351.12 224.83 L1353.69 218.29 L1356.26 212.37 L1358.83 207.29 L1361.4 203.23 L1363.97 200.42 L1366.54 199.02 L1369.11 198.84 L1371.68 199.36 L1374.25 200.17 L1376.82 201.17 L1379.39 202.34 L1381.96 203.66 L1384.53 205.11 L1387.1 206.68 L1389.67 208.34 L1392.24 210.08 L1394.81 211.87 L1397.38 213.69 L1399.95 215.53 L1402.52 217.37 L1405.09 219.19 L1407.66 220.96 L1410.23 222.68 L1412.8 224.31 L1415.37 225.84 L1417.94 227.26 L1420.51 228.53 L1423.08 229.65 L1425.65 230.6 L1428.22 231.4 L1430.79 232.07 L1433.36 232.61 L1435.93 233.04 L1438.5 233.38 L1441.07 233.65 L1443.64 233.85 L1446.21 233.99 L1448.78 234.11 L1451.35 234.21 L1453.92 234.3 L1456.49 234.4 L1459.06 234.53 L1461.63 234.69 L1464.2 234.91 L1466.77 235.2 L1469.34 235.57 L1471.91 236.05 L1474.48 236.63 L1477.05 237.34 L1479.62 238.2 L1482.19 239.21 L1484.76 240.4 L1487.33 241.77 L1489.9 243.34 L1492.47 245.13 L1495.04 247.15 L1497.61 249.42 L1500.18 251.95 L1502.75 254.75 L1505.32 257.84 L1507.89 261.24 L1510.46 264.92 L1513.03 268.86 L1515.6 273.01 L1518.17 277.33 L1520.74 281.78 L1523.31 286.33 L1525.87 290.93 L1528.44 295.55 L1531.01 300.14 L1533.58 304.67 L1536.15 309.09 L1538.72 313.41 L1541.29 317.59 L1543.86 321.64 L1546.43 325.54 L1549 329.29 L1551.57 332.87 L1554.14 336.27 L1556.71 339.49 L1559.28 342.51 L1561.85 345.36 L1564.42 348.02 L1566.99 350.52 L1569.56 352.84 L1572.13 355.01 L1574.7 357.03 L1577.27 358.9 L1579.84 360.63 L1582.41 362.22 L1584.98 363.69 L1587.55 365.04 L1590.12 366.27 L1592.69 367.39 L1595.26 368.41 L1597.83 369.34 L1600.4 370.17 L1602.97 370.92 L1605.54 371.59 L1608.11 372.19 L1610.68 372.73 L1613.25 373.21 L1615.82 373.63 L1618.39 374.01 L1620.96 374.35 L1623.53 374.66 L1626.1 374.94" stroke="#f00" stroke-width="5" fill="none" stroke-linecap="round" stroke-linejoin="round"/>
<rect x="971.8" y="63.38" width="662.2" height="486.96" fill="none" stroke="#000" stroke-width="3.6" stroke-linejoin="round"/>
<path d="M971.8 509.76h10M971.8 428.6h10M971.8 347.44h10M971.8 266.28h10M971.8 185.12h10M971.8 103.96h10M971.8 469.18h6M971.8 388.02h6M971.8 306.86h6M971.8 225.7h6M971.8 144.54h6M1137.35 550.34v-10M1302.9 550.34v-10M1468.45 550.34v-10M1054.58 550.34v-6M1220.12 550.34v-6M1385.67 550.34v-6M1551.22 550.34v-6" stroke="#000" stroke-width="3" fill="none" stroke-linecap="round"/>
<g font-family="'Liberation Sans', Arial, Helvetica, sans-serif" font-weight="bold" font-size="32" text-anchor="end">
<text x="961.3" y="518.96">-10</text>
<text x="961.3" y="437.8">0</text>
<text x="961.3" y="356.64">10</text>
<text x="961.3" y="275.48">20</text>
<text x="961.3" y="194.32">30</text>
<text x="961.3" y="113.16">40</text>
</g>
<g font-family="'Liberation Sans', Arial, Helvetica, sans-serif" font-weight="bold" font-size="32" text-anchor="middle">
<text x="971.8" y="585.54">1</text>
<text x="1137.35" y="585.54">2</text>
<text x="1302.9" y="585.54">3</text>
<text x="1468.45" y="585.54">4</text>
<text x="1634" y="585.54">5</text>
</g>
<text x="1302.9" y="640" font-family="'Liberation Sans', Arial, Helvetica, sans-serif" font-weight="bold" font-size="35.8" text-anchor="middle">Photon energy (eV)</text>
<text transform="translate(892.5 306.5) rotate(-90)" font-family="'Liberation Sans', Arial, Helvetica, sans-serif" font-weight="bold" font-size="37" text-anchor="middle">Epsilon</text>
<text x="863" y="38" font-family="'Liberation Sans', Arial, Helvetica, sans-serif" font-weight="bold" font-size="46" textLength="61.6" lengthAdjust="spacingAndGlyphs">(b)</text>
<rect x="1103.4" y="96.7" width="14.5" height="14.5" fill="#000"/>
<path d="M1332.7 96.5l8.3 8.3l-8.3 8.3l-8.3 -8.3z" fill="none" stroke="#e00" stroke-width="2.8"/>
<path d="M1085 151.5h52.3" stroke="#767676" stroke-width="5" stroke-linecap="round"/>
<path d="M1301.9 151.5h52" stroke="#e00" stroke-width="5" stroke-linecap="round"/>
<text x="1148.8" y="112.3" font-family="'Liberation Sans', Arial, Helvetica, sans-serif" font-size="25" textLength="13.2" lengthAdjust="spacingAndGlyphs" stroke="#000" stroke-width="0.55">ε</text>
<text x="1161.2" y="121.7" font-family="'Liberation Sans', Arial, Helvetica, sans-serif" font-weight="bold" font-size="21.3">1</text>
<text x="1178.8" y="112.3" font-family="'Liberation Sans', Arial, Helvetica, sans-serif" font-weight="bold" font-size="25.4">measured,</text>
<text x="1373.2" y="112.3" font-family="'Liberation Sans', Arial, Helvetica, sans-serif" font-size="25" textLength="13.2" lengthAdjust="spacingAndGlyphs" stroke="#000" stroke-width="0.55">ε</text>
<text x="1384.4" y="121.7" font-family="'Liberation Sans', Arial, Helvetica, sans-serif" font-weight="bold" font-size="21.3">2</text>
<text x="1403.2" y="112.3" font-family="'Liberation Sans', Arial, Helvetica, sans-serif" font-weight="bold" font-size="25.4">measured</text>
<text x="1152.6" y="158.5" font-family="'Liberation Sans', Arial, Helvetica, sans-serif" font-size="25" textLength="13.2" lengthAdjust="spacingAndGlyphs" stroke="#000" stroke-width="0.55">ε</text>
<text x="1165" y="167.9" font-family="'Liberation Sans', Arial, Helvetica, sans-serif" font-weight="bold" font-size="21.3">1</text>
<text x="1182.6" y="158.5" font-family="'Liberation Sans', Arial, Helvetica, sans-serif" font-weight="bold" font-size="25.4">modeled,</text>
<text x="1368.6" y="158.5" font-family="'Liberation Sans', Arial, Helvetica, sans-serif" font-size="25" textLength="13.2" lengthAdjust="spacingAndGlyphs" stroke="#000" stroke-width="0.55">ε</text>
<text x="1379.8" y="167.9" font-family="'Liberation Sans', Arial, Helvetica, sans-serif" font-weight="bold" font-size="21.3">2</text>
<text x="1398.6" y="158.5" font-family="'Liberation Sans', Arial, Helvetica, sans-serif" font-weight="bold" font-size="25.4">modeled</text>
<path d="M276.27 725.26V1213.18M441.85 725.26V1213.18M607.42 725.26V1213.18M110.7 1172.52H773M110.7 1091.2H773M110.7 1009.88H773M110.7 928.56H773M110.7 847.24H773M110.7 765.92H773" stroke="#a6a6a6" stroke-width="1.6" fill="none"/>
<rect x="211.2" y="739.7" width="457.6" height="99.3" fill="#fff" stroke="#858585" stroke-width="1.5"/>
<g fill="#000"><rect x="143.9" y="998.8" width="14" height="14"/><rect x="153.35" y="997.78" width="14" height="14"/><rect x="162.79" y="996.77" width="14" height="14"/><rect x="172.24" y="995.78" width="14" height="14"/><rect x="181.68" y="994.68" width="14" height="14"/><rect x="191.13" y="993.14" width="14" height="14"/><rect x="200.58" y="991.1" width="14" height="14"/><rect x="210.02" y="989.18" width="14" height="14"/><rect x="219.47" y="987.43" width="14" height="14"/><rect x="228.92" y="985.4" width="14" height="14"/><rect x="238.36" y="983.36" width="14" height="14"/><rect x="247.81" y="980.85" width="14" height="14"/><rect x="257.25" y="978.19" width="14" height="14"/><rect x="266.7" y="975.68" width="14" height="14"/><rect x="276.15" y="973.14" width="14" height="14"/><rect x="285.59" y="970.16" width="14" height="14"/><rect x="295.04" y="967.28" width="14" height="14"/><rect x="304.48" y="964.44" width="14" height="14"/><rect x="313.93" y="961" width="14" height="14"/><rect x="323.38" y="957.35" width="14" height="14"/><rect x="332.82" y="953.69" width="14" height="14"/><rect x="342.27" y="950.5" width="14" height="14"/><rect x="351.72" y="947.82" width="14" height="14"/><rect x="361.16" y="945.18" width="14" height="14"/><rect x="370.61" y="941.62" width="14" height="14"/><rect x="380.05" y="941.4" width="14" height="14"/><rect x="389.5" y="941.4" width="14" height="14"/><rect x="398.95" y="944.32" width="14" height="14"/><rect x="408.39" y="948" width="14" height="14"/><rect x="417.84" y="952.17" width="14" height="14"/><rect x="427.28" y="957.79" width="14" height="14"/><rect x="436.73" y="963.48" width="14" height="14"/><rect x="446.18" y="970.05" width="14" height="14"/><rect x="455.62" y="975.69" width="14" height="14"/><rect x="465.07" y="981.12" width="14" height="14"/><rect x="474.52" y="993.48" width="14" height="14"/><rect x="483.96" y="1013.58" width="14" height="14"/><rect x="493.41" y="1038.06" width="14" height="14"/><rect x="502.85" y="1060.16" width="14" height="14"/><rect x="512.3" y="1074.65" width="14" height="14"/><rect x="521.75" y="1084.53" width="14" height="14"/><rect x="531.19" y="1091.42" width="14" height="14"/><rect x="540.64" y="1096.42" width="14" height="14"/><rect x="550.08" y="1101.21" width="14" height="14"/><rect x="559.53" y="1106.58" width="14" height="14"/><rect x="568.98" y="1111.34" width="14" height="14"/><rect x="578.42" y="1116.05" width="14" height="14"/><rect x="587.87" y="1120.63" width="14" height="14"/><rect x="597.32" y="1127.48" width="14" height="14"/><rect x="606.76" y="1135.69" width="14" height="14"/><rect x="616.21" y="1144.7" width="14" height="14"/><rect x="625.65" y="1154.09" width="14" height="14"/><rect x="635.1" y="1161.83" width="14" height="14"/><rect x="644.55" y="1166.09" width="14" height="14"/><rect x="653.99" y="1167" width="14" height="14"/><rect x="663.44" y="1165.9" width="14" height="14"/><rect x="672.88" y="1163.41" width="14" height="14"/><rect x="682.33" y="1159.49" width="14" height="14"/><rect x="691.78" y="1155.7" width="14" height="14"/><rect x="701.22" y="1151.38" width="14" height="14"/><rect x="710.67" y="1147.3" width="14" height="14"/><rect x="720.12" y="1143.37" width="14" height="14"/><rect x="729.56" y="1139.69" width="14" height="14"/><rect x="739.01" y="1136.09" width="14" height="14"/><rect x="748.45" y="1133.57" width="14" height="14"/><rect x="757.9" y="1130.98" width="14" height="14"/></g>
<path d="M150.9 1001.54 L153.47 1001.28 L156.04 1001.03 L158.61 1000.8 L161.18 1000.57 L163.75 1000.35 L166.31 1000.13 L168.88 999.92 L171.45 999.72 L174.02 999.52 L176.59 999.33 L179.16 999.13 L181.73 998.94 L184.3 998.75 L186.87 998.56 L189.44 998.37 L192 998.17 L194.57 997.98 L197.14 997.77 L199.71 997.57 L202.28 997.35 L204.85 997.13 L207.42 996.9 L209.99 996.67 L212.56 996.42 L215.13 996.16 L217.69 995.89 L220.26 995.61 L222.83 995.31 L225.4 995 L227.97 994.67 L230.54 994.33 L233.11 993.97 L235.68 993.59 L238.25 993.19 L240.82 992.77 L243.39 992.33 L245.95 991.87 L248.52 991.39 L251.09 990.88 L253.66 990.34 L256.23 989.78 L258.8 989.19 L261.37 988.58 L263.94 987.94 L266.51 987.26 L269.08 986.56 L271.64 985.82 L274.21 985.05 L276.78 984.25 L279.35 983.42 L281.92 982.56 L284.49 981.67 L287.06 980.76 L289.63 979.82 L292.2 978.87 L294.77 977.9 L297.34 976.92 L299.9 975.93 L302.47 974.92 L305.04 973.91 L307.61 972.9 L310.18 971.88 L312.75 970.86 L315.32 969.85 L317.89 968.84 L320.46 967.84 L323.03 966.84 L325.59 965.86 L328.16 964.9 L330.73 963.95 L333.3 963.03 L335.87 962.12 L338.44 961.24 L341.01 960.38 L343.58 959.56 L346.15 958.77 L348.72 958.01 L351.28 957.29 L353.85 956.6 L356.42 955.96 L358.99 955.36 L361.56 954.81 L364.13 954.31 L366.7 953.86 L369.27 953.46 L371.84 953.11 L374.41 952.83 L376.98 952.6 L379.54 952.44 L382.11 952.33 L384.68 952.28 L387.25 952.29 L389.82 952.36 L392.39 952.49 L394.96 952.68 L397.53 952.93 L400.1 953.24 L402.67 953.61 L405.23 954.04 L407.8 954.52 L410.37 955.07 L412.94 955.68 L415.51 956.35 L418.08 957.08 L420.65 957.87 L423.22 958.72 L425.79 959.63 L428.36 960.6 L430.93 961.63 L433.49 962.72 L436.06 963.87 L438.63 965.08 L441.2 966.36 L443.77 967.69 L446.34 969.09 L448.91 970.55 L451.48 972.07 L454.05 973.65 L456.62 975.32 L459.18 977.11 L461.75 979.05 L464.32 981.18 L466.89 983.53 L469.46 986.14 L472.03 989.04 L474.6 992.27 L477.17 995.85 L479.74 999.82 L482.31 1004.23 L484.87 1009.09 L487.44 1014.43 L490.01 1020.17 L492.58 1026.2 L495.15 1032.43 L497.72 1038.76 L500.29 1045.09 L502.86 1051.33 L505.43 1057.43 L508 1063.3 L510.57 1068.86 L513.13 1074.05 L515.7 1078.78 L518.27 1082.99 L520.84 1086.67 L523.41 1089.88 L525.98 1092.68 L528.55 1095.11 L531.12 1097.23 L533.69 1099.09 L536.26 1100.75 L538.82 1102.27 L541.39 1103.69 L543.96 1105.04 L546.53 1106.33 L549.1 1107.57 L551.67 1108.77 L554.24 1109.93 L556.81 1111.07 L559.38 1112.18 L561.95 1113.28 L564.52 1114.38 L567.08 1115.47 L569.65 1116.58 L572.22 1117.7 L574.79 1118.85 L577.36 1120.03 L579.93 1121.24 L582.5 1122.51 L585.07 1123.83 L587.64 1125.21 L590.21 1126.66 L592.77 1128.19 L595.34 1129.8 L597.91 1131.5 L600.48 1133.31 L603.05 1135.22 L605.62 1137.24 L608.19 1139.36 L610.76 1141.56 L613.33 1143.81 L615.9 1146.11 L618.46 1148.43 L621.03 1150.75 L623.6 1153.05 L626.17 1155.32 L628.74 1157.53 L631.31 1159.66 L633.88 1161.7 L636.45 1163.63 L639.02 1165.42 L641.59 1167.06 L644.16 1168.53 L646.72 1169.84 L649.29 1170.98 L651.86 1171.95 L654.43 1172.77 L657 1173.44 L659.57 1173.95 L662.14 1174.32 L664.71 1174.55 L667.28 1174.65 L669.85 1174.61 L672.41 1174.45 L674.98 1174.18 L677.55 1173.79 L680.12 1173.3 L682.69 1172.71 L685.26 1172.03 L687.83 1171.26 L690.4 1170.42 L692.97 1169.51 L695.54 1168.53 L698.11 1167.49 L700.67 1166.39 L703.24 1165.25 L705.81 1164.07 L708.38 1162.86 L710.95 1161.62 L713.52 1160.36 L716.09 1159.09 L718.66 1157.8 L721.23 1156.52 L723.8 1155.24 L726.36 1153.97 L728.93 1152.72 L731.5 1151.5 L734.07 1150.3 L736.64 1149.15 L739.21 1148.03 L741.78 1146.97 L744.35 1145.96 L746.92 1145.01 L749.49 1144.14 L752.05 1143.34 L754.62 1142.62 L757.19 1141.99 L759.76 1141.45 L762.33 1141.02 L764.9 1140.69" stroke="#767676" stroke-width="5" fill="none" stroke-linecap="round" stroke-linejoin="round"/>
<g fill="none" stroke="#ee0000" stroke-width="2.8"><path d="M150.9 1058.25l8.2 8.2l-8.2 8.2l-8.2 -8.2z"/><path d="M160.35 1058.75l8.2 8.2l-8.2 8.2l-8.2 -8.2z"/><path d="M169.79 1059.29l8.2 8.2l-8.2 8.2l-8.2 -8.2z"/><path d="M179.24 1059.3l8.2 8.2l-8.2 8.2l-8.2 -8.2z"/><path d="M188.68 1059.3l8.2 8.2l-8.2 8.2l-8.2 -8.2z"/><path d="M198.13 1059.6l8.2 8.2l-8.2 8.2l-8.2 -8.2z"/><path d="M207.58 1059.3l8.2 8.2l-8.2 8.2l-8.2 -8.2z"/><path d="M217.02 1059.6l8.2 8.2l-8.2 8.2l-8.2 -8.2z"/><path d="M226.47 1059.14l8.2 8.2l-8.2 8.2l-8.2 -8.2z"/><path d="M235.92 1058.55l8.2 8.2l-8.2 8.2l-8.2 -8.2z"/><path d="M245.36 1057.43l8.2 8.2l-8.2 8.2l-8.2 -8.2z"/><path d="M254.81 1056.62l8.2 8.2l-8.2 8.2l-8.2 -8.2z"/><path d="M264.25 1055.57l8.2 8.2l-8.2 8.2l-8.2 -8.2z"/><path d="M273.7 1054.26l8.2 8.2l-8.2 8.2l-8.2 -8.2z"/><path d="M283.15 1052.55l8.2 8.2l-8.2 8.2l-8.2 -8.2z"/><path d="M292.59 1050.45l8.2 8.2l-8.2 8.2l-8.2 -8.2z"/><path d="M302.04 1048.01l8.2 8.2l-8.2 8.2l-8.2 -8.2z"/><path d="M311.48 1044.39l8.2 8.2l-8.2 8.2l-8.2 -8.2z"/><path d="M320.93 1039.57l8.2 8.2l-8.2 8.2l-8.2 -8.2z"/><path d="M330.38 1035.8l8.2 8.2l-8.2 8.2l-8.2 -8.2z"/><path d="M339.82 1032.11l8.2 8.2l-8.2 8.2l-8.2 -8.2z"/><path d="M349.27 1027.43l8.2 8.2l-8.2 8.2l-8.2 -8.2z"/><path d="M358.72 1021.41l8.2 8.2l-8.2 8.2l-8.2 -8.2z"/><path d="M368.16 1014.31l8.2 8.2l-8.2 8.2l-8.2 -8.2z"/><path d="M377.61 1006.42l8.2 8.2l-8.2 8.2l-8.2 -8.2z"/><path d="M387.05 997.71l8.2 8.2l-8.2 8.2l-8.2 -8.2z"/><path d="M396.5 988.2l8.2 8.2l-8.2 8.2l-8.2 -8.2z"/><path d="M405.95 978.78l8.2 8.2l-8.2 8.2l-8.2 -8.2z"/><path d="M415.39 968.4l8.2 8.2l-8.2 8.2l-8.2 -8.2z"/><path d="M424.84 958.04l8.2 8.2l-8.2 8.2l-8.2 -8.2z"/><path d="M434.28 946.81l8.2 8.2l-8.2 8.2l-8.2 -8.2z"/><path d="M443.73 935.3l8.2 8.2l-8.2 8.2l-8.2 -8.2z"/><path d="M453.18 925.04l8.2 8.2l-8.2 8.2l-8.2 -8.2z"/><path d="M462.62 920l8.2 8.2l-8.2 8.2l-8.2 -8.2z"/><path d="M472.07 909.08l8.2 8.2l-8.2 8.2l-8.2 -8.2z"/><path d="M481.52 893.04l8.2 8.2l-8.2 8.2l-8.2 -8.2z"/><path d="M490.96 880.33l8.2 8.2l-8.2 8.2l-8.2 -8.2z"/><path d="M500.41 876.3l8.2 8.2l-8.2 8.2l-8.2 -8.2z"/><path d="M509.85 883.45l8.2 8.2l-8.2 8.2l-8.2 -8.2z"/><path d="M519.3 892.89l8.2 8.2l-8.2 8.2l-8.2 -8.2z"/><path d="M528.75 902.84l8.2 8.2l-8.2 8.2l-8.2 -8.2z"/><path d="M538.19 912.89l8.2 8.2l-8.2 8.2l-8.2 -8.2z"/><path d="M547.64 919.18l8.2 8.2l-8.2 8.2l-8.2 -8.2z"/><path d="M557.08 924.58l8.2 8.2l-8.2 8.2l-8.2 -8.2z"/><path d="M566.53 927.87l8.2 8.2l-8.2 8.2l-8.2 -8.2z"/><path d="M575.98 932.65l8.2 8.2l-8.2 8.2l-8.2 -8.2z"/><path d="M585.42 935.08l8.2 8.2l-8.2 8.2l-8.2 -8.2z"/><path d="M594.87 938.49l8.2 8.2l-8.2 8.2l-8.2 -8.2z"/><path d="M604.32 941.14l8.2 8.2l-8.2 8.2l-8.2 -8.2z"/><path d="M613.76 944.34l8.2 8.2l-8.2 8.2l-8.2 -8.2z"/><path d="M623.21 948.15l8.2 8.2l-8.2 8.2l-8.2 -8.2z"/><path d="M632.65 955.36l8.2 8.2l-8.2 8.2l-8.2 -8.2z"/><path d="M642.1 967.83l8.2 8.2l-8.2 8.2l-8.2 -8.2z"/><path d="M651.55 979.25l8.2 8.2l-8.2 8.2l-8.2 -8.2z"/><path d="M660.99 991.12l8.2 8.2l-8.2 8.2l-8.2 -8.2z"/><path d="M670.44 1002.7l8.2 8.2l-8.2 8.2l-8.2 -8.2z"/><path d="M679.88 1012.78l8.2 8.2l-8.2 8.2l-8.2 -8.2z"/><path d="M689.33 1021.14l8.2 8.2l-8.2 8.2l-8.2 -8.2z"/><path d="M698.78 1027.73l8.2 8.2l-8.2 8.2l-8.2 -8.2z"/><path d="M708.22 1032.41l8.2 8.2l-8.2 8.2l-8.2 -8.2z"/><path d="M717.67 1036.65l8.2 8.2l-8.2 8.2l-8.2 -8.2z"/><path d="M727.12 1039.4l8.2 8.2l-8.2 8.2l-8.2 -8.2z"/><path d="M736.56 1042.74l8.2 8.2l-8.2 8.2l-8.2 -8.2z"/><path d="M746.01 1044.27l8.2 8.2l-8.2 8.2l-8.2 -8.2z"/><path d="M755.45 1045.89l8.2 8.2l-8.2 8.2l-8.2 -8.2z"/><path d="M764.9 1047.02l8.2 8.2l-8.2 8.2l-8.2 -8.2z"/></g>
<path d="M150.9 1071.78 L153.47 1071.63 L156.04 1071.5 L158.61 1071.38 L161.18 1071.29 L163.75 1071.21 L166.31 1071.15 L168.88 1071.1 L171.45 1071.07 L174.02 1071.05 L176.59 1071.04 L179.16 1071.04 L181.73 1071.05 L184.3 1071.07 L186.87 1071.09 L189.44 1071.12 L192 1071.15 L194.57 1071.19 L197.14 1071.23 L199.71 1071.27 L202.28 1071.32 L204.85 1071.36 L207.42 1071.39 L209.99 1071.43 L212.56 1071.46 L215.13 1071.48 L217.69 1071.5 L220.26 1071.51 L222.83 1071.51 L225.4 1071.51 L227.97 1071.49 L230.54 1071.46 L233.11 1071.41 L235.68 1071.35 L238.25 1071.28 L240.82 1071.18 L243.39 1071.07 L245.95 1070.95 L248.52 1070.8 L251.09 1070.63 L253.66 1070.43 L256.23 1070.22 L258.8 1069.98 L261.37 1069.71 L263.94 1069.42 L266.51 1069.1 L269.08 1068.75 L271.64 1068.37 L274.21 1067.96 L276.78 1067.51 L279.35 1067.04 L281.92 1066.53 L284.49 1065.98 L287.06 1065.39 L289.63 1064.77 L292.2 1064.11 L294.77 1063.41 L297.34 1062.66 L299.9 1061.88 L302.47 1061.05 L305.04 1060.18 L307.61 1059.26 L310.18 1058.29 L312.75 1057.27 L315.32 1056.21 L317.89 1055.1 L320.46 1053.93 L323.03 1052.71 L325.59 1051.44 L328.16 1050.12 L330.73 1048.75 L333.3 1047.32 L335.87 1045.85 L338.44 1044.33 L341.01 1042.76 L343.58 1041.15 L346.15 1039.49 L348.72 1037.78 L351.28 1036.03 L353.85 1034.24 L356.42 1032.41 L358.99 1030.53 L361.56 1028.61 L364.13 1026.66 L366.7 1024.66 L369.27 1022.63 L371.84 1020.55 L374.41 1018.45 L376.98 1016.3 L379.54 1014.12 L382.11 1011.91 L384.68 1009.66 L387.25 1007.38 L389.82 1005.07 L392.39 1002.73 L394.96 1000.36 L397.53 997.96 L400.1 995.53 L402.67 993.07 L405.23 990.59 L407.8 988.08 L410.37 985.54 L412.94 982.98 L415.51 980.4 L418.08 977.79 L420.65 975.17 L423.22 972.52 L425.79 969.85 L428.36 967.17 L430.93 964.46 L433.49 961.73 L436.06 958.97 L438.63 956.18 L441.2 953.35 L443.77 950.49 L446.34 947.58 L448.91 944.63 L451.48 941.62 L454.05 938.56 L456.62 935.44 L459.18 932.26 L461.75 929.01 L464.32 925.69 L466.89 922.31 L469.46 918.87 L472.03 915.4 L474.6 911.89 L477.17 908.36 L479.74 904.81 L482.31 901.26 L484.87 897.71 L487.44 894.32 L490.01 891.36 L492.58 889.09 L495.15 887.73 L497.72 887.24 L500.29 887.5 L502.86 888.43 L505.43 889.94 L508 891.92 L510.57 894.28 L513.13 896.93 L515.7 899.78 L518.27 902.72 L520.84 905.7 L523.41 908.7 L525.98 911.68 L528.55 914.62 L531.12 917.46 L533.69 920.2 L536.26 922.79 L538.82 925.2 L541.39 927.42 L543.96 929.44 L546.53 931.29 L549.1 932.98 L551.67 934.52 L554.24 935.91 L556.81 937.18 L559.38 938.34 L561.95 939.39 L564.52 940.35 L567.08 941.23 L569.65 942.04 L572.22 942.79 L574.79 943.51 L577.36 944.19 L579.93 944.85 L582.5 945.5 L585.07 946.16 L587.64 946.84 L590.21 947.54 L592.77 948.29 L595.34 949.09 L597.91 949.95 L600.48 950.89 L603.05 951.92 L605.62 953.04 L608.19 954.27 L610.76 955.61 L613.33 957.04 L615.9 958.58 L618.46 960.22 L621.03 961.95 L623.6 963.79 L626.17 965.73 L628.74 967.77 L631.31 969.91 L633.88 972.14 L636.45 974.48 L639.02 976.91 L641.59 979.44 L644.16 982.07 L646.72 984.79 L649.29 987.61 L651.86 990.52 L654.43 993.53 L657 996.63 L659.57 999.8 L662.14 1003.02 L664.71 1006.24 L667.28 1009.46 L669.85 1012.65 L672.41 1015.77 L674.98 1018.8 L677.55 1021.72 L680.12 1024.5 L682.69 1027.11 L685.26 1029.53 L687.83 1031.73 L690.4 1033.7 L692.97 1035.45 L695.54 1037.03 L698.11 1038.44 L700.67 1039.73 L703.24 1040.91 L705.81 1042.01 L708.38 1043.05 L710.95 1044.06 L713.52 1045.05 L716.09 1046.02 L718.66 1046.95 L721.23 1047.85 L723.8 1048.72 L726.36 1049.54 L728.93 1050.33 L731.5 1051.07 L734.07 1051.76 L736.64 1052.4 L739.21 1052.99 L741.78 1053.51 L744.35 1053.98 L746.92 1054.39 L749.49 1054.73 L752.05 1055 L754.62 1055.2 L757.19 1055.33 L759.76 1055.37 L762.33 1055.34 L764.9 1055.22" stroke="#f00" stroke-width="5" fill="none" stroke-linecap="round" stroke-linejoin="round"/>
<rect x="110.7" y="725.26" width="662.3" height="487.92" fill="none" stroke="#000" stroke-width="3.6" stroke-linejoin="round"/>
<path d="M110.7 1172.52h10M110.7 1091.2h10M110.7 1009.88h10M110.7 928.56h10M110.7 847.24h10M110.7 765.92h10M110.7 1131.86h6M110.7 1050.54h6M110.7 969.22h6M110.7 887.9h6M110.7 806.58h6M276.27 1213.18v-10M441.85 1213.18v-10M607.42 1213.18v-10M193.49 1213.18v-6M359.06 1213.18v-6M524.64 1213.18v-6M690.21 1213.18v-6" stroke="#000" stroke-width="3" fill="none" stroke-linecap="round"/>
<g font-family="'Liberation Sans', Arial, Helvetica, sans-serif" font-weight="bold" font-size="32" text-anchor="end">
<text x="100.2" y="1181.72">-10</text>
<text x="100.2" y="1100.4">0</text>
<text x="100.2" y="1019.08">10</text>
<text x="100.2" y="937.76">20</text>
<text x="100.2" y="856.44">30</text>
<text x="100.2" y="775.12">40</text>
</g>
<g font-family="'Liberation Sans', Arial, Helvetica, sans-serif" font-weight="bold" font-size="32" text-anchor="middle">
<text x="110.7" y="1248.38">1</text>
<text x="276.27" y="1248.38">2</text>
<text x="441.85" y="1248.38">3</text>
<text x="607.42" y="1248.38">4</text>
<text x="773" y="1248.38">5</text>
</g>
<text x="441.85" y="1300" font-family="'Liberation Sans', Arial, Helvetica, sans-serif" font-weight="bold" font-size="35.8" text-anchor="middle">Photon energy (eV)</text>
<text transform="translate(31.5 968.5) rotate(-90)" font-family="'Liberation Sans', Arial, Helvetica, sans-serif" font-weight="bold" font-size="37" text-anchor="middle">Epsilon</text>
<text x="2.5" y="703.5" font-family="'Liberation Sans', Arial, Helvetica, sans-serif" font-weight="bold" font-size="46" textLength="54.3" lengthAdjust="spacingAndGlyphs">(c)</text>
<rect x="242" y="758.5" width="14.5" height="14.5" fill="#000"/>
<path d="M471.3 758.3l8.3 8.3l-8.3 8.3l-8.3 -8.3z" fill="none" stroke="#e00" stroke-width="2.8"/>
<path d="M224.3 813.6h52.2" stroke="#767676" stroke-width="5" stroke-linecap="round"/>
<path d="M441 813.6h52" stroke="#e00" stroke-width="5" stroke-linecap="round"/>
<text x="287.3" y="774.1" font-family="'Liberation Sans', Arial, Helvetica, sans-serif" font-size="25" textLength="13.2" lengthAdjust="spacingAndGlyphs" stroke="#000" stroke-width="0.55">ε</text>
<text x="299.7" y="783.5" font-family="'Liberation Sans', Arial, Helvetica, sans-serif" font-weight="bold" font-size="21.3">1</text>
<text x="317.3" y="774.1" font-family="'Liberation Sans', Arial, Helvetica, sans-serif" font-weight="bold" font-size="25.4">measured,</text>
<text x="511.4" y="774.1" font-family="'Liberation Sans', Arial, Helvetica, sans-serif" font-size="25" textLength="13.2" lengthAdjust="spacingAndGlyphs" stroke="#000" stroke-width="0.55">ε</text>
<text x="522.6" y="783.5" font-family="'Liberation Sans', Arial, Helvetica, sans-serif" font-weight="bold" font-size="21.3">2</text>
<text x="541.4" y="774.1" font-family="'Liberation Sans', Arial, Helvetica, sans-serif" font-weight="bold" font-size="25.4">measured</text>
<text x="291.8" y="820.6" font-family="'Liberation Sans', Arial, Helvetica, sans-serif" font-size="25" textLength="13.2" lengthAdjust="spacingAndGlyphs" stroke="#000" stroke-width="0.55">ε</text>
<text x="304.2" y="830" font-family="'Liberation Sans', Arial, Helvetica, sans-serif" font-weight="bold" font-size="21.3">1</text>
<text x="321.8" y="820.6" font-family="'Liberation Sans', Arial, Helvetica, sans-serif" font-weight="bold" font-size="25.4">modeled,</text>
<text x="507.6" y="820.6" font-family="'Liberation Sans', Arial, Helvetica, sans-serif" font-size="25" textLength="13.2" lengthAdjust="spacingAndGlyphs" stroke="#000" stroke-width="0.55">ε</text>
<text x="518.8" y="830" font-family="'Liberation Sans', Arial, Helvetica, sans-serif" font-weight="bold" font-size="21.3">2</text>
<text x="537.6" y="820.6" font-family="'Liberation Sans', Arial, Helvetica, sans-serif" font-weight="bold" font-size="25.4">modeled</text>
<path d="M1136.28 725.26V1213.18M1301.85 725.26V1213.18M1467.42 725.26V1213.18M970.7 1172.52H1633M970.7 1091.2H1633M970.7 1009.88H1633M970.7 928.56H1633M970.7 847.24H1633M970.7 765.92H1633" stroke="#a6a6a6" stroke-width="1.6" fill="none"/>
<rect x="1071.5" y="739.7" width="457.5" height="99.3" fill="#fff" stroke="#858585" stroke-width="1.5"/>
<g fill="#000"><rect x="1004.2" y="1002" width="14" height="14"/><rect x="1013.65" y="1001.29" width="14" height="14"/><rect x="1023.09" y="1000.58" width="14" height="14"/><rect x="1032.54" y="999.95" width="14" height="14"/><rect x="1041.98" y="998.81" width="14" height="14"/><rect x="1051.43" y="997.55" width="14" height="14"/><rect x="1060.88" y="996.13" width="14" height="14"/><rect x="1070.32" y="995.08" width="14" height="14"/><rect x="1079.77" y="993.34" width="14" height="14"/><rect x="1089.22" y="992.11" width="14" height="14"/><rect x="1098.66" y="990.37" width="14" height="14"/><rect x="1108.11" y="988.84" width="14" height="14"/><rect x="1117.55" y="986.8" width="14" height="14"/><rect x="1127" y="984.55" width="14" height="14"/><rect x="1136.45" y="982.65" width="14" height="14"/><rect x="1145.89" y="980.92" width="14" height="14"/><rect x="1155.34" y="978.37" width="14" height="14"/><rect x="1164.78" y="976.48" width="14" height="14"/><rect x="1174.23" y="974.69" width="14" height="14"/><rect x="1183.68" y="971.93" width="14" height="14"/><rect x="1193.12" y="969.7" width="14" height="14"/><rect x="1202.57" y="967.45" width="14" height="14"/><rect x="1212.02" y="964.84" width="14" height="14"/><rect x="1221.46" y="962.65" width="14" height="14"/><rect x="1230.91" y="961.6" width="14" height="14"/><rect x="1240.35" y="960.5" width="14" height="14"/><rect x="1249.8" y="961.38" width="14" height="14"/><rect x="1259.25" y="966.14" width="14" height="14"/><rect x="1268.69" y="971.86" width="14" height="14"/><rect x="1278.14" y="980.2" width="14" height="14"/><rect x="1287.58" y="990.09" width="14" height="14"/><rect x="1297.03" y="999.51" width="14" height="14"/><rect x="1306.48" y="1010.74" width="14" height="14"/><rect x="1315.92" y="1023.23" width="14" height="14"/><rect x="1325.37" y="1032.65" width="14" height="14"/><rect x="1334.82" y="1044.86" width="14" height="14"/><rect x="1344.26" y="1061.61" width="14" height="14"/><rect x="1353.71" y="1081.87" width="14" height="14"/><rect x="1363.15" y="1095.89" width="14" height="14"/><rect x="1372.6" y="1104.1" width="14" height="14"/><rect x="1382.05" y="1108.19" width="14" height="14"/><rect x="1391.49" y="1112.03" width="14" height="14"/><rect x="1400.94" y="1115.52" width="14" height="14"/><rect x="1410.38" y="1117.87" width="14" height="14"/><rect x="1419.83" y="1120.37" width="14" height="14"/><rect x="1429.28" y="1123.96" width="14" height="14"/><rect x="1438.72" y="1126.81" width="14" height="14"/><rect x="1448.17" y="1130.45" width="14" height="14"/><rect x="1457.62" y="1135.5" width="14" height="14"/><rect x="1467.06" y="1139.69" width="14" height="14"/><rect x="1476.51" y="1145.96" width="14" height="14"/><rect x="1485.95" y="1150.9" width="14" height="14"/><rect x="1495.4" y="1155.72" width="14" height="14"/><rect x="1504.85" y="1157" width="14" height="14"/><rect x="1514.29" y="1156.99" width="14" height="14"/><rect x="1523.74" y="1155.86" width="14" height="14"/><rect x="1533.18" y="1152.45" width="14" height="14"/><rect x="1542.63" y="1148.89" width="14" height="14"/><rect x="1552.08" y="1145.27" width="14" height="14"/><rect x="1561.52" y="1141.37" width="14" height="14"/><rect x="1570.97" y="1137.48" width="14" height="14"/><rect x="1580.42" y="1134.46" width="14" height="14"/><rect x="1589.86" y="1131.16" width="14" height="14"/><rect x="1599.31" y="1128.99" width="14" height="14"/><rect x="1608.75" y="1126.95" width="14" height="14"/><rect x="1618.2" y="1125.2" width="14" height="14"/></g>
<path d="M1011.2 1003.17 L1013.77 1003.07 L1016.34 1002.97 L1018.91 1002.87 L1021.48 1002.78 L1024.05 1002.68 L1026.61 1002.59 L1029.18 1002.5 L1031.75 1002.41 L1034.32 1002.31 L1036.89 1002.22 L1039.46 1002.12 L1042.03 1002.02 L1044.6 1001.92 L1047.17 1001.82 L1049.74 1001.71 L1052.3 1001.6 L1054.87 1001.48 L1057.44 1001.36 L1060.01 1001.23 L1062.58 1001.1 L1065.15 1000.96 L1067.72 1000.81 L1070.29 1000.66 L1072.86 1000.49 L1075.43 1000.32 L1077.99 1000.14 L1080.56 999.95 L1083.13 999.75 L1085.7 999.53 L1088.27 999.31 L1090.84 999.08 L1093.41 998.83 L1095.98 998.57 L1098.55 998.3 L1101.12 998.01 L1103.69 997.71 L1106.25 997.39 L1108.82 997.06 L1111.39 996.71 L1113.96 996.35 L1116.53 995.97 L1119.1 995.57 L1121.67 995.16 L1124.24 994.72 L1126.81 994.27 L1129.38 993.8 L1131.94 993.31 L1134.51 992.8 L1137.08 992.27 L1139.65 991.71 L1142.22 991.14 L1144.79 990.54 L1147.36 989.92 L1149.93 989.29 L1152.5 988.64 L1155.07 987.97 L1157.64 987.29 L1160.2 986.61 L1162.77 985.91 L1165.34 985.21 L1167.91 984.51 L1170.48 983.8 L1173.05 983.1 L1175.62 982.4 L1178.19 981.71 L1180.76 981.02 L1183.33 980.35 L1185.89 979.68 L1188.46 979.03 L1191.03 978.4 L1193.6 977.79 L1196.17 977.19 L1198.74 976.63 L1201.31 976.08 L1203.88 975.57 L1206.45 975.08 L1209.02 974.62 L1211.58 974.2 L1214.15 973.82 L1216.72 973.48 L1219.29 973.17 L1221.86 972.91 L1224.43 972.69 L1227 972.52 L1229.57 972.4 L1232.14 972.34 L1234.71 972.32 L1237.28 972.36 L1239.84 972.46 L1242.41 972.62 L1244.98 972.85 L1247.55 973.13 L1250.12 973.49 L1252.69 973.91 L1255.26 974.41 L1257.83 974.98 L1260.4 975.62 L1262.97 976.35 L1265.53 977.17 L1268.1 978.07 L1270.67 979.08 L1273.24 980.2 L1275.81 981.43 L1278.38 982.78 L1280.95 984.25 L1283.52 985.86 L1286.09 987.61 L1288.66 989.5 L1291.23 991.54 L1293.79 993.74 L1296.36 996.08 L1298.93 998.56 L1301.5 1001.17 L1304.07 1003.9 L1306.64 1006.74 L1309.21 1009.68 L1311.78 1012.71 L1314.35 1015.83 L1316.92 1019.03 L1319.48 1022.29 L1322.05 1025.61 L1324.62 1028.98 L1327.19 1032.39 L1329.76 1035.84 L1332.33 1039.35 L1334.9 1042.96 L1337.47 1046.69 L1340.04 1050.55 L1342.61 1054.59 L1345.17 1058.82 L1347.74 1063.27 L1350.31 1067.97 L1352.88 1072.93 L1355.45 1078.2 L1358.02 1083.75 L1360.59 1089.42 L1363.16 1094.96 L1365.73 1100.15 L1368.3 1104.74 L1370.87 1108.58 L1373.43 1111.73 L1376 1114.27 L1378.57 1116.27 L1381.14 1117.83 L1383.71 1119.02 L1386.28 1119.94 L1388.85 1120.66 L1391.42 1121.27 L1393.99 1121.83 L1396.56 1122.37 L1399.12 1122.89 L1401.69 1123.39 L1404.26 1123.88 L1406.83 1124.38 L1409.4 1124.87 L1411.97 1125.38 L1414.54 1125.9 L1417.11 1126.44 L1419.68 1127.01 L1422.25 1127.61 L1424.82 1128.26 L1427.38 1128.94 L1429.95 1129.68 L1432.52 1130.45 L1435.09 1131.27 L1437.66 1132.12 L1440.23 1133.01 L1442.8 1133.94 L1445.37 1134.9 L1447.94 1135.88 L1450.51 1136.89 L1453.07 1137.93 L1455.64 1138.99 L1458.21 1140.07 L1460.78 1141.17 L1463.35 1142.28 L1465.92 1143.41 L1468.49 1144.55 L1471.06 1145.69 L1473.63 1146.84 L1476.2 1148 L1478.76 1149.16 L1481.33 1150.31 L1483.9 1151.47 L1486.47 1152.62 L1489.04 1153.76 L1491.61 1154.89 L1494.18 1156.01 L1496.75 1157.11 L1499.32 1158.18 L1501.89 1159.21 L1504.46 1160.18 L1507.02 1161.07 L1509.59 1161.87 L1512.16 1162.56 L1514.73 1163.14 L1517.3 1163.57 L1519.87 1163.86 L1522.44 1163.98 L1525.01 1163.92 L1527.58 1163.67 L1530.15 1163.21 L1532.71 1162.55 L1535.28 1161.71 L1537.85 1160.73 L1540.42 1159.63 L1542.99 1158.42 L1545.56 1157.13 L1548.13 1155.79 L1550.7 1154.42 L1553.27 1153.05 L1555.84 1151.69 L1558.41 1150.37 L1560.97 1149.11 L1563.54 1147.95 L1566.11 1146.88 L1568.68 1145.9 L1571.25 1145.01 L1573.82 1144.19 L1576.39 1143.45 L1578.96 1142.76 L1581.53 1142.13 L1584.1 1141.55 L1586.66 1141.01 L1589.23 1140.5 L1591.8 1140.02 L1594.37 1139.56 L1596.94 1139.11 L1599.51 1138.66 L1602.08 1138.22 L1604.65 1137.76 L1607.22 1137.28 L1609.79 1136.78 L1612.35 1136.25 L1614.92 1135.68 L1617.49 1135.06 L1620.06 1134.39 L1622.63 1133.66 L1625.2 1132.86" stroke="#767676" stroke-width="5" fill="none" stroke-linecap="round" stroke-linejoin="round"/>
<g fill="none" stroke="#ee0000" stroke-width="2.8"><path d="M1011.2 1049.09l8.2 8.2l-8.2 8.2l-8.2 -8.2z"/><path d="M1020.65 1049.3l8.2 8.2l-8.2 8.2l-8.2 -8.2z"/><path d="M1030.09 1049.3l8.2 8.2l-8.2 8.2l-8.2 -8.2z"/><path d="M1039.54 1049.3l8.2 8.2l-8.2 8.2l-8.2 -8.2z"/><path d="M1048.98 1049.1l8.2 8.2l-8.2 8.2l-8.2 -8.2z"/><path d="M1058.43 1048.8l8.2 8.2l-8.2 8.2l-8.2 -8.2z"/><path d="M1067.88 1048.49l8.2 8.2l-8.2 8.2l-8.2 -8.2z"/><path d="M1077.32 1048.2l8.2 8.2l-8.2 8.2l-8.2 -8.2z"/><path d="M1086.77 1047.73l8.2 8.2l-8.2 8.2l-8.2 -8.2z"/><path d="M1096.22 1046.93l8.2 8.2l-8.2 8.2l-8.2 -8.2z"/><path d="M1105.66 1046l8.2 8.2l-8.2 8.2l-8.2 -8.2z"/><path d="M1115.11 1044.76l8.2 8.2l-8.2 8.2l-8.2 -8.2z"/><path d="M1124.55 1043.34l8.2 8.2l-8.2 8.2l-8.2 -8.2z"/><path d="M1134 1041.72l8.2 8.2l-8.2 8.2l-8.2 -8.2z"/><path d="M1143.45 1039.79l8.2 8.2l-8.2 8.2l-8.2 -8.2z"/><path d="M1152.89 1037.52l8.2 8.2l-8.2 8.2l-8.2 -8.2z"/><path d="M1162.34 1034.78l8.2 8.2l-8.2 8.2l-8.2 -8.2z"/><path d="M1171.78 1032.17l8.2 8.2l-8.2 8.2l-8.2 -8.2z"/><path d="M1181.23 1027.91l8.2 8.2l-8.2 8.2l-8.2 -8.2z"/><path d="M1190.68 1023.9l8.2 8.2l-8.2 8.2l-8.2 -8.2z"/><path d="M1200.12 1020.22l8.2 8.2l-8.2 8.2l-8.2 -8.2z"/><path d="M1209.57 1016.39l8.2 8.2l-8.2 8.2l-8.2 -8.2z"/><path d="M1219.02 1011.19l8.2 8.2l-8.2 8.2l-8.2 -8.2z"/><path d="M1228.46 1004.9l8.2 8.2l-8.2 8.2l-8.2 -8.2z"/><path d="M1237.91 998.03l8.2 8.2l-8.2 8.2l-8.2 -8.2z"/><path d="M1247.35 990.6l8.2 8.2l-8.2 8.2l-8.2 -8.2z"/><path d="M1256.8 982.07l8.2 8.2l-8.2 8.2l-8.2 -8.2z"/><path d="M1266.25 972.85l8.2 8.2l-8.2 8.2l-8.2 -8.2z"/><path d="M1275.69 961.37l8.2 8.2l-8.2 8.2l-8.2 -8.2z"/><path d="M1285.14 949.06l8.2 8.2l-8.2 8.2l-8.2 -8.2z"/><path d="M1294.58 937.37l8.2 8.2l-8.2 8.2l-8.2 -8.2z"/><path d="M1304.03 924.31l8.2 8.2l-8.2 8.2l-8.2 -8.2z"/><path d="M1313.48 916.6l8.2 8.2l-8.2 8.2l-8.2 -8.2z"/><path d="M1322.92 913.02l8.2 8.2l-8.2 8.2l-8.2 -8.2z"/><path d="M1332.37 909.64l8.2 8.2l-8.2 8.2l-8.2 -8.2z"/><path d="M1341.82 904.64l8.2 8.2l-8.2 8.2l-8.2 -8.2z"/><path d="M1351.26 900.5l8.2 8.2l-8.2 8.2l-8.2 -8.2z"/><path d="M1360.71 905.1l8.2 8.2l-8.2 8.2l-8.2 -8.2z"/><path d="M1370.15 914.71l8.2 8.2l-8.2 8.2l-8.2 -8.2z"/><path d="M1379.6 925.78l8.2 8.2l-8.2 8.2l-8.2 -8.2z"/><path d="M1389.05 935.78l8.2 8.2l-8.2 8.2l-8.2 -8.2z"/><path d="M1398.49 944.83l8.2 8.2l-8.2 8.2l-8.2 -8.2z"/><path d="M1407.94 950.47l8.2 8.2l-8.2 8.2l-8.2 -8.2z"/><path d="M1417.38 955.74l8.2 8.2l-8.2 8.2l-8.2 -8.2z"/><path d="M1426.83 960.08l8.2 8.2l-8.2 8.2l-8.2 -8.2z"/><path d="M1436.28 963.83l8.2 8.2l-8.2 8.2l-8.2 -8.2z"/><path d="M1445.72 967.68l8.2 8.2l-8.2 8.2l-8.2 -8.2z"/><path d="M1455.17 970.44l8.2 8.2l-8.2 8.2l-8.2 -8.2z"/><path d="M1464.62 973.48l8.2 8.2l-8.2 8.2l-8.2 -8.2z"/><path d="M1474.06 978.01l8.2 8.2l-8.2 8.2l-8.2 -8.2z"/><path d="M1483.51 982.45l8.2 8.2l-8.2 8.2l-8.2 -8.2z"/><path d="M1492.95 989.3l8.2 8.2l-8.2 8.2l-8.2 -8.2z"/><path d="M1502.4 997.79l8.2 8.2l-8.2 8.2l-8.2 -8.2z"/><path d="M1511.85 1007.76l8.2 8.2l-8.2 8.2l-8.2 -8.2z"/><path d="M1521.29 1017.29l8.2 8.2l-8.2 8.2l-8.2 -8.2z"/><path d="M1530.74 1026.52l8.2 8.2l-8.2 8.2l-8.2 -8.2z"/><path d="M1540.18 1032.43l8.2 8.2l-8.2 8.2l-8.2 -8.2z"/><path d="M1549.63 1037.63l8.2 8.2l-8.2 8.2l-8.2 -8.2z"/><path d="M1559.08 1043.12l8.2 8.2l-8.2 8.2l-8.2 -8.2z"/><path d="M1568.52 1046.83l8.2 8.2l-8.2 8.2l-8.2 -8.2z"/><path d="M1577.97 1049.36l8.2 8.2l-8.2 8.2l-8.2 -8.2z"/><path d="M1587.42 1051.46l8.2 8.2l-8.2 8.2l-8.2 -8.2z"/><path d="M1596.86 1053.06l8.2 8.2l-8.2 8.2l-8.2 -8.2z"/><path d="M1606.31 1054.11l8.2 8.2l-8.2 8.2l-8.2 -8.2z"/><path d="M1615.75 1055.25l8.2 8.2l-8.2 8.2l-8.2 -8.2z"/><path d="M1625.2 1057.01l8.2 8.2l-8.2 8.2l-8.2 -8.2z"/></g>
<path d="M1011.2 1062.63 L1013.77 1062.76 L1016.34 1062.88 L1018.91 1062.99 L1021.48 1063.09 L1024.05 1063.18 L1026.61 1063.26 L1029.18 1063.33 L1031.75 1063.39 L1034.32 1063.44 L1036.89 1063.48 L1039.46 1063.51 L1042.03 1063.53 L1044.6 1063.53 L1047.17 1063.52 L1049.74 1063.5 L1052.3 1063.47 L1054.87 1063.42 L1057.44 1063.36 L1060.01 1063.29 L1062.58 1063.2 L1065.15 1063.1 L1067.72 1062.99 L1070.29 1062.86 L1072.86 1062.71 L1075.43 1062.55 L1077.99 1062.37 L1080.56 1062.18 L1083.13 1061.97 L1085.7 1061.75 L1088.27 1061.51 L1090.84 1061.25 L1093.41 1060.97 L1095.98 1060.68 L1098.55 1060.36 L1101.12 1060.03 L1103.69 1059.68 L1106.25 1059.32 L1108.82 1058.93 L1111.39 1058.52 L1113.96 1058.1 L1116.53 1057.65 L1119.1 1057.19 L1121.67 1056.7 L1124.24 1056.19 L1126.81 1055.66 L1129.38 1055.11 L1131.94 1054.54 L1134.51 1053.95 L1137.08 1053.33 L1139.65 1052.69 L1142.22 1052.03 L1144.79 1051.34 L1147.36 1050.63 L1149.93 1049.9 L1152.5 1049.15 L1155.07 1048.36 L1157.64 1047.56 L1160.2 1046.73 L1162.77 1045.87 L1165.34 1044.99 L1167.91 1044.08 L1170.48 1043.15 L1173.05 1042.19 L1175.62 1041.21 L1178.19 1040.19 L1180.76 1039.15 L1183.33 1038.09 L1185.89 1036.99 L1188.46 1035.86 L1191.03 1034.71 L1193.6 1033.52 L1196.17 1032.3 L1198.74 1031.05 L1201.31 1029.76 L1203.88 1028.43 L1206.45 1027.06 L1209.02 1025.65 L1211.58 1024.2 L1214.15 1022.71 L1216.72 1021.17 L1219.29 1019.58 L1221.86 1017.95 L1224.43 1016.26 L1227 1014.53 L1229.57 1012.74 L1232.14 1010.9 L1234.71 1009 L1237.28 1007.05 L1239.84 1005.04 L1242.41 1002.97 L1244.98 1000.83 L1247.55 998.64 L1250.12 996.38 L1252.69 994.05 L1255.26 991.66 L1257.83 989.2 L1260.4 986.66 L1262.97 984.06 L1265.53 981.38 L1268.1 978.63 L1270.67 975.8 L1273.24 972.9 L1275.81 969.91 L1278.38 966.85 L1280.95 963.7 L1283.52 960.47 L1286.09 957.2 L1288.66 953.95 L1291.23 950.78 L1293.79 947.74 L1296.36 944.9 L1298.93 942.31 L1301.5 940.03 L1304.07 938.08 L1306.64 936.32 L1309.21 934.63 L1311.78 932.89 L1314.35 930.99 L1316.92 928.95 L1319.48 926.81 L1322.05 924.62 L1324.62 922.4 L1327.19 920.22 L1329.76 918.11 L1332.33 916.11 L1334.9 914.27 L1337.47 912.63 L1340.04 911.23 L1342.61 910.12 L1345.17 909.34 L1347.74 908.93 L1350.31 908.93 L1352.88 909.39 L1355.45 910.36 L1358.02 911.87 L1360.59 913.97 L1363.16 916.67 L1365.73 919.84 L1368.3 923.29 L1370.87 926.84 L1373.43 930.28 L1376 933.56 L1378.57 936.68 L1381.14 939.64 L1383.71 942.45 L1386.28 945.11 L1388.85 947.64 L1391.42 950.02 L1393.99 952.28 L1396.56 954.41 L1399.12 956.42 L1401.69 958.31 L1404.26 960.1 L1406.83 961.79 L1409.4 963.38 L1411.97 964.89 L1414.54 966.3 L1417.11 967.64 L1419.68 968.91 L1422.25 970.11 L1424.82 971.25 L1427.38 972.33 L1429.95 973.36 L1432.52 974.35 L1435.09 975.3 L1437.66 976.22 L1440.23 977.12 L1442.8 977.99 L1445.37 978.85 L1447.94 979.7 L1450.51 980.54 L1453.07 981.39 L1455.64 982.25 L1458.21 983.12 L1460.78 984.01 L1463.35 984.93 L1465.92 985.9 L1468.49 986.91 L1471.06 988 L1473.63 989.16 L1476.2 990.42 L1478.76 991.78 L1481.33 993.26 L1483.9 994.88 L1486.47 996.64 L1489.04 998.55 L1491.61 1000.64 L1494.18 1002.91 L1496.75 1005.36 L1499.32 1007.93 L1501.89 1010.61 L1504.46 1013.36 L1507.02 1016.14 L1509.59 1018.92 L1512.16 1021.67 L1514.73 1024.35 L1517.3 1026.93 L1519.87 1029.42 L1522.44 1031.8 L1525.01 1034.08 L1527.58 1036.27 L1530.15 1038.35 L1532.71 1040.32 L1535.28 1042.2 L1537.85 1043.97 L1540.42 1045.64 L1542.99 1047.2 L1545.56 1048.66 L1548.13 1050.01 L1550.7 1051.26 L1553.27 1052.41 L1555.84 1053.47 L1558.41 1054.45 L1560.97 1055.36 L1563.54 1056.21 L1566.11 1056.99 L1568.68 1057.72 L1571.25 1058.41 L1573.82 1059.05 L1576.39 1059.65 L1578.96 1060.22 L1581.53 1060.74 L1584.1 1061.23 L1586.66 1061.68 L1589.23 1062.09 L1591.8 1062.47 L1594.37 1062.81 L1596.94 1063.12 L1599.51 1063.4 L1602.08 1063.65 L1604.65 1063.86 L1607.22 1064.05 L1609.79 1064.21 L1612.35 1064.34 L1614.92 1064.45 L1617.49 1064.53 L1620.06 1064.59 L1622.63 1064.62 L1625.2 1064.63" stroke="#f00" stroke-width="5" fill="none" stroke-linecap="round" stroke-linejoin="round"/>
<rect x="970.7" y="725.26" width="662.3" height="487.92" fill="none" stroke="#000" stroke-width="3.6" stroke-linejoin="round"/>
<path d="M970.7 1172.52h10M970.7 1091.2h10M970.7 1009.88h10M970.7 928.56h10M970.7 847.24h10M970.7 765.92h10M970.7 1131.86h6M970.7 1050.54h6M970.7 969.22h6M970.7 887.9h6M970.7 806.58h6M1136.28 1213.18v-10M1301.85 1213.18v-10M1467.42 1213.18v-10M1053.49 1213.18v-6M1219.06 1213.18v-6M1384.64 1213.18v-6M1550.21 1213.18v-6" stroke="#000" stroke-width="3" fill="none" stroke-linecap="round"/>
<g font-family="'Liberation Sans', Arial, Helvetica, sans-serif" font-weight="bold" font-size="32" text-anchor="end">
<text x="960.2" y="1181.72">-10</text>
<text x="960.2" y="1100.4">0</text>
<text x="960.2" y="1019.08">10</text>
<text x="960.2" y="937.76">20</text>
<text x="960.2" y="856.44">30</text>
<text x="960.2" y="775.12">40</text>
</g>
<g font-family="'Liberation Sans', Arial, Helvetica, sans-serif" font-weight="bold" font-size="32" text-anchor="middle">
<text x="970.7" y="1248.38">1</text>
<text x="1136.28" y="1248.38">2</text>
<text x="1301.85" y="1248.38">3</text>
<text x="1467.42" y="1248.38">4</text>
<text x="1633" y="1248.38">5</text>
</g>
<text x="1301.85" y="1300" font-family="'Liberation Sans', Arial, Helvetica, sans-serif" font-weight="bold" font-size="35.8" text-anchor="middle">Photon energy (eV)</text>
<text transform="translate(891.5 968.5) rotate(-90)" font-family="'Liberation Sans', Arial, Helvetica, sans-serif" font-weight="bold" font-size="37" text-anchor="middle">Epsilon</text>
<text x="863" y="706" font-family="'Liberation Sans', Arial, Helvetica, sans-serif" font-weight="bold" font-size="46" textLength="61.4" lengthAdjust="spacingAndGlyphs">(d)</text>
<rect x="1102.4" y="758.5" width="14.5" height="14.5" fill="#000"/>
<path d="M1331.2 758.3l8.3 8.3l-8.3 8.3l-8.3 -8.3z" fill="none" stroke="#e00" stroke-width="2.8"/>
<path d="M1084.3 813.6h52" stroke="#767676" stroke-width="5" stroke-linecap="round"/>
<path d="M1301.3 813.6h51.7" stroke="#e00" stroke-width="5" stroke-linecap="round"/>
<text x="1147.5" y="774.1" font-family="'Liberation Sans', Arial, Helvetica, sans-serif" font-size="25" textLength="13.2" lengthAdjust="spacingAndGlyphs" stroke="#000" stroke-width="0.55">ε</text>
<text x="1159.9" y="783.5" font-family="'Liberation Sans', Arial, Helvetica, sans-serif" font-weight="bold" font-size="21.3">1</text>
<text x="1177.5" y="774.1" font-family="'Liberation Sans', Arial, Helvetica, sans-serif" font-weight="bold" font-size="25.4">measured,</text>
<text x="1371.6" y="774.1" font-family="'Liberation Sans', Arial, Helvetica, sans-serif" font-size="25" textLength="13.2" lengthAdjust="spacingAndGlyphs" stroke="#000" stroke-width="0.55">ε</text>
<text x="1382.8" y="783.5" font-family="'Liberation Sans', Arial, Helvetica, sans-serif" font-weight="bold" font-size="21.3">2</text>
<text x="1401.6" y="774.1" font-family="'Liberation Sans', Arial, Helvetica, sans-serif" font-weight="bold" font-size="25.4">measured</text>
<text x="1151.1" y="820.6" font-family="'Liberation Sans', Arial, Helvetica, sans-serif" font-size="25" textLength="13.2" lengthAdjust="spacingAndGlyphs" stroke="#000" stroke-width="0.55">ε</text>
<text x="1163.5" y="830" font-family="'Liberation Sans', Arial, Helvetica, sans-serif" font-weight="bold" font-size="21.3">1</text>
<text x="1181.1" y="820.6" font-family="'Liberation Sans', Arial, Helvetica, sans-serif" font-weight="bold" font-size="25.4">modeled,</text>
<text x="1368.1" y="820.6" font-family="'Liberation Sans', Arial, Helvetica, sans-serif" font-size="25" textLength="13.2" lengthAdjust="spacingAndGlyphs" stroke="#000" stroke-width="0.55">ε</text>
<text x="1379.3" y="830" font-family="'Liberation Sans', Arial, Helvetica, sans-serif" font-weight="bold" font-size="21.3">2</text>
<text x="1398.1" y="820.6" font-family="'Liberation Sans', Arial, Helvetica, sans-serif" font-weight="bold" font-size="25.4">modeled</text>
</svg>
</body></html>
